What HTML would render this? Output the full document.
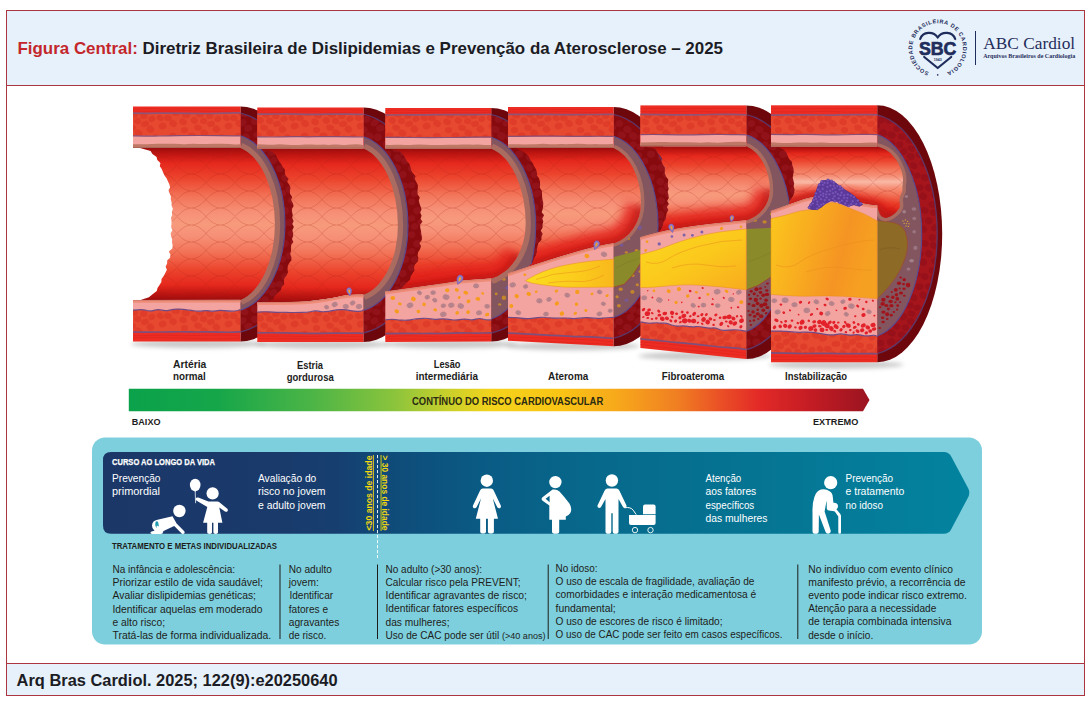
<!DOCTYPE html>
<html lang="pt-BR"><head><meta charset="utf-8"><title>Figura Central</title>
<style>
html,body{margin:0;padding:0;background:#fff;}
body{width:1089px;height:702px;overflow:hidden;position:relative;font-family:'Liberation Sans',Arial,sans-serif;}
svg{position:absolute;left:0;top:0;display:block}
svg text{font-family:'Liberation Sans',Arial,sans-serif;white-space:pre}
svg text.serif{font-family:'Liberation Serif','Times New Roman',serif}
</style></head><body>
<svg width="1089" height="702" viewBox="0 0 1089 702">

<defs>
<linearGradient id="gRisk" x1="0" y1="0" x2="1" y2="0">
<stop offset="0" stop-color="#0aa24b"/><stop offset="0.12" stop-color="#16a64a"/><stop offset="0.25" stop-color="#4db546"/>
<stop offset="0.36" stop-color="#8cc43c"/><stop offset="0.43" stop-color="#c9d02b"/><stop offset="0.49" stop-color="#f3d31c"/>
<stop offset="0.58" stop-color="#fac515"/><stop offset="0.66" stop-color="#f7a81b"/><stop offset="0.74" stop-color="#f07f22"/>
<stop offset="0.80" stop-color="#ea4f26"/><stop offset="0.85" stop-color="#e32a27"/><stop offset="0.92" stop-color="#c41c24"/>
<stop offset="1" stop-color="#9a1420"/></linearGradient>
<linearGradient id="gBand" x1="0" y1="0" x2="1" y2="0">
<stop offset="0" stop-color="#1b3768"/><stop offset="0.2" stop-color="#193a6b"/><stop offset="0.27" stop-color="#163f70"/><stop offset="0.32" stop-color="#104978"/>
<stop offset="0.43" stop-color="#0a5a84"/><stop offset="0.57" stop-color="#07698c"/><stop offset="0.8" stop-color="#057795"/><stop offset="1" stop-color="#03839f"/></linearGradient>
</defs>
<rect x="6.5" y="10.5" width="1078" height="685" fill="#fff" stroke="#ab3640" stroke-width="1"/>
<rect x="7" y="11" width="1077" height="74" fill="#e7f1fb"/>
<rect x="7" y="664" width="1077" height="31" fill="#e7f1fb"/>
<rect x="7" y="85" width="1077" height="1" fill="#ab3640"/>
<rect x="7" y="663" width="1077" height="1" fill="#ab3640"/>
<text x="17.5" y="53.8" font-size="16.5" font-weight="700" textLength="705.5" lengthAdjust="spacingAndGlyphs" fill="#1c1c24"><tspan fill="#c3272b">Figura Central:</tspan> Diretriz Brasileira de Dislipidemias e Prevenção da Aterosclerose – 2025</text>
<text x="16.6" y="686.3" font-size="16.2" font-weight="700" fill="#1c1c24" textLength="321" lengthAdjust="spacingAndGlyphs">Arq Bras Cardiol. 2025; 122(9):e20250640</text>
<g id="logo">
<path id="ringp" d="M 929.0500000000001,72.27 A 25.3,25.3 0 1 1 946.35,72.27" fill="none"/>
<text font-size="5.6" font-weight="700" fill="#1f2d5c" letter-spacing="0.2"><textPath href="#ringp" startOffset="0" textLength="140.5" lengthAdjust="spacing">SOCIEDADE BRASILEIRA DE CARDIOLOGIA</textPath></text>
<circle cx="937.7" cy="74.9" r="0.8" fill="#1f2d5c"/>
<path d="M 937.7,37.5 C 933.7,31.0 922.7,31.0 920.2,39.0 M 937.7,37.5 C 941.7,31.0 952.7,31.0 955.2,39.0" fill="none" stroke="#1f2d5c" stroke-width="2.2" stroke-linecap="round"/>
<path d="M 924.2,57.0 L 937.7,68.0 L 951.2,57.0" fill="none" stroke="#1f2d5c" stroke-width="2.2" stroke-linecap="round" stroke-linejoin="round"/>
<text x="937.7" y="54.6" font-size="18.6" font-weight="700" fill="#1f2d5c" text-anchor="middle" textLength="37.5" lengthAdjust="spacingAndGlyphs" stroke="#1f2d5c" stroke-width="0.7">SBC</text>
<text x="937.7" y="61.1" font-size="3.6" font-weight="700" fill="#1f2d5c" text-anchor="middle">1943</text>
<rect x="975" y="31" width="1" height="34" fill="#1f2d5c"/>
<text class="serif" x="983.2" y="48.6" font-size="17.3" fill="#1f2d5c" textLength="92" lengthAdjust="spacingAndGlyphs">ABC Cardiol</text>
<text class="serif" x="983.2" y="57.6" font-size="6" font-weight="700" fill="#1f2d5c" textLength="92" lengthAdjust="spacingAndGlyphs">Arquivos Brasileiros de Cardiologia</text>
</g>
<defs>
<pattern id="cellF" patternUnits="userSpaceOnUse" width="66" height="33"><rect width="66" height="33" fill="#e74830"/><ellipse cx="41.1" cy="24.5" rx="3.9" ry="3.3" fill="#df3d29" transform="rotate(29 41.1 24.5)"/><ellipse cx="52.5" cy="-1.9" rx="3.6" ry="3.1" fill="#df3d29" transform="rotate(1 52.5 -1.9)"/><ellipse cx="52.5" cy="31.1" rx="3.6" ry="3.1" fill="#df3d29" transform="rotate(1 52.5 31.1)"/><ellipse cx="1.9" cy="15.4" rx="4.1" ry="3.3" fill="#df3d29" transform="rotate(14 1.9 15.4)"/><ellipse cx="67.9" cy="15.4" rx="4.1" ry="3.3" fill="#df3d29" transform="rotate(14 67.9 15.4)"/><ellipse cx="-3.7" cy="21.4" rx="3.6" ry="3.5" fill="#df3d29" transform="rotate(39 -3.7 21.4)"/><ellipse cx="62.3" cy="21.4" rx="3.6" ry="3.5" fill="#df3d29" transform="rotate(39 62.3 21.4)"/><ellipse cx="59.5" cy="3.7" rx="4.1" ry="3.1" fill="#df3d29" transform="rotate(-0 59.5 3.7)"/><ellipse cx="59.5" cy="36.7" rx="4.1" ry="3.1" fill="#df3d29" transform="rotate(-0 59.5 36.7)"/><ellipse cx="31.0" cy="8.1" rx="4.2" ry="3.7" fill="#df3d29" transform="rotate(-22 31.0 8.1)"/><ellipse cx="35.9" cy="18.9" rx="3.9" ry="3.2" fill="#df3d29" transform="rotate(7 35.9 18.9)"/><ellipse cx="0.9" cy="7.2" rx="4.0" ry="3.2" fill="#df3d29" transform="rotate(-38 0.9 7.2)"/><ellipse cx="66.9" cy="7.2" rx="4.0" ry="3.2" fill="#df3d29" transform="rotate(-38 66.9 7.2)"/><ellipse cx="18.4" cy="-2.8" rx="3.8" ry="3.6" fill="#df3d29" transform="rotate(39 18.4 -2.8)"/><ellipse cx="18.4" cy="30.2" rx="3.8" ry="3.6" fill="#df3d29" transform="rotate(39 18.4 30.2)"/><ellipse cx="40.8" cy="4.2" rx="4.0" ry="3.4" fill="#df3d29" transform="rotate(-12 40.8 4.2)"/><ellipse cx="0.1" cy="28.8" rx="4.0" ry="3.1" fill="#df3d29" transform="rotate(15 0.1 28.8)"/><ellipse cx="66.1" cy="28.8" rx="4.0" ry="3.1" fill="#df3d29" transform="rotate(15 66.1 28.8)"/><ellipse cx="13.8" cy="7.1" rx="3.5" ry="3.5" fill="#df3d29" transform="rotate(-31 13.8 7.1)"/><ellipse cx="23.8" cy="5.5" rx="3.8" ry="3.1" fill="#df3d29" transform="rotate(31 23.8 5.5)"/><ellipse cx="19.9" cy="19.9" rx="3.6" ry="3.1" fill="#df3d29" transform="rotate(-32 19.9 19.9)"/><ellipse cx="54.0" cy="15.9" rx="4.2" ry="3.4" fill="#df3d29" transform="rotate(14 54.0 15.9)"/><ellipse cx="13.0" cy="24.9" rx="4.1" ry="3.1" fill="#df3d29" transform="rotate(-18 13.0 24.9)"/><ellipse cx="51.1" cy="22.9" rx="3.9" ry="3.3" fill="#df3d29" transform="rotate(26 51.1 22.9)"/><ellipse cx="30.6" cy="27.0" rx="4.0" ry="3.4" fill="#df3d29" transform="rotate(-18 30.6 27.0)"/><ellipse cx="43.9" cy="13.9" rx="4.3" ry="3.1" fill="#df3d29" transform="rotate(-6 43.9 13.9)"/><ellipse cx="51.6" cy="8.1" rx="3.8" ry="3.3" fill="#df3d29" transform="rotate(-1 51.6 8.1)"/><ellipse cx="28.2" cy="19.0" rx="3.7" ry="3.0" fill="#df3d29" transform="rotate(39 28.2 19.0)"/><ellipse cx="5.6" cy="22.0" rx="3.7" ry="3.2" fill="#df3d29" transform="rotate(12 5.6 22.0)"/><ellipse cx="6.4" cy="1.1" rx="4.1" ry="3.4" fill="#df3d29" transform="rotate(29 6.4 1.1)"/><ellipse cx="6.4" cy="34.1" rx="4.1" ry="3.4" fill="#df3d29" transform="rotate(29 6.4 34.1)"/><ellipse cx="11.8" cy="16.8" rx="3.7" ry="3.3" fill="#df3d29" transform="rotate(-6 11.8 16.8)"/><ellipse cx="60.6" cy="11.8" rx="3.9" ry="3.1" fill="#df3d29" transform="rotate(-27 60.6 11.8)"/></pattern>
<pattern id="cellD" patternUnits="userSpaceOnUse" width="66" height="33"><rect width="66" height="33" fill="#860a0e"/><ellipse cx="30.6" cy="12.3" rx="4.1" ry="3.7" fill="#92121a" transform="rotate(14 30.6 12.3)"/><ellipse cx="9.1" cy="28.6" rx="4.2" ry="3.4" fill="#92121a" transform="rotate(-32 9.1 28.6)"/><ellipse cx="0.4" cy="16.6" rx="3.8" ry="3.7" fill="#92121a" transform="rotate(17 0.4 16.6)"/><ellipse cx="66.4" cy="16.6" rx="3.8" ry="3.7" fill="#92121a" transform="rotate(17 66.4 16.6)"/><ellipse cx="59.3" cy="2.7" rx="4.0" ry="3.0" fill="#92121a" transform="rotate(-15 59.3 2.7)"/><ellipse cx="59.3" cy="35.7" rx="4.0" ry="3.0" fill="#92121a" transform="rotate(-15 59.3 35.7)"/><ellipse cx="36.6" cy="20.3" rx="3.9" ry="3.4" fill="#92121a" transform="rotate(-17 36.6 20.3)"/><ellipse cx="46.4" cy="14.9" rx="4.1" ry="3.3" fill="#92121a" transform="rotate(15 46.4 14.9)"/><ellipse cx="47.9" cy="5.2" rx="3.9" ry="3.7" fill="#92121a" transform="rotate(-40 47.9 5.2)"/><ellipse cx="15.7" cy="3.7" rx="3.6" ry="3.3" fill="#92121a" transform="rotate(-12 15.7 3.7)"/><ellipse cx="15.7" cy="36.7" rx="3.6" ry="3.3" fill="#92121a" transform="rotate(-12 15.7 36.7)"/><ellipse cx="33.4" cy="-2.5" rx="4.2" ry="3.5" fill="#92121a" transform="rotate(16 33.4 -2.5)"/><ellipse cx="33.4" cy="30.5" rx="4.2" ry="3.5" fill="#92121a" transform="rotate(16 33.4 30.5)"/><ellipse cx="25.3" cy="24.6" rx="3.8" ry="3.4" fill="#92121a" transform="rotate(-15 25.3 24.6)"/><ellipse cx="6.7" cy="9.6" rx="3.9" ry="3.5" fill="#92121a" transform="rotate(-25 6.7 9.6)"/><ellipse cx="44.5" cy="23.9" rx="4.1" ry="3.1" fill="#92121a" transform="rotate(-35 44.5 23.9)"/><ellipse cx="27.8" cy="2.9" rx="4.2" ry="3.2" fill="#92121a" transform="rotate(27 27.8 2.9)"/><ellipse cx="27.8" cy="35.9" rx="4.2" ry="3.2" fill="#92121a" transform="rotate(27 27.8 35.9)"/><ellipse cx="39.4" cy="4.0" rx="4.3" ry="3.6" fill="#92121a" transform="rotate(23 39.4 4.0)"/><ellipse cx="1.2" cy="2.8" rx="3.7" ry="3.4" fill="#92121a" transform="rotate(29 1.2 2.8)"/><ellipse cx="1.2" cy="35.8" rx="3.7" ry="3.4" fill="#92121a" transform="rotate(29 1.2 35.8)"/><ellipse cx="67.2" cy="2.8" rx="3.7" ry="3.4" fill="#92121a" transform="rotate(29 67.2 2.8)"/><ellipse cx="67.2" cy="35.8" rx="3.7" ry="3.4" fill="#92121a" transform="rotate(29 67.2 35.8)"/><ellipse cx="15.6" cy="20.2" rx="3.6" ry="3.1" fill="#92121a" transform="rotate(-8 15.6 20.2)"/><ellipse cx="1.7" cy="25.8" rx="4.0" ry="3.3" fill="#92121a" transform="rotate(37 1.7 25.8)"/><ellipse cx="67.7" cy="25.8" rx="4.0" ry="3.3" fill="#92121a" transform="rotate(37 67.7 25.8)"/><ellipse cx="56.8" cy="12.2" rx="4.1" ry="3.7" fill="#92121a" transform="rotate(-2 56.8 12.2)"/><ellipse cx="50.3" cy="-3.8" rx="4.1" ry="3.3" fill="#92121a" transform="rotate(-17 50.3 -3.8)"/><ellipse cx="50.3" cy="29.2" rx="4.1" ry="3.3" fill="#92121a" transform="rotate(-17 50.3 29.2)"/><ellipse cx="21.1" cy="12.7" rx="3.9" ry="3.6" fill="#92121a" transform="rotate(-25 21.1 12.7)"/><ellipse cx="57.1" cy="22.3" rx="4.0" ry="3.6" fill="#92121a" transform="rotate(1 57.1 22.3)"/><ellipse cx="18.5" cy="28.5" rx="3.7" ry="3.2" fill="#92121a" transform="rotate(-20 18.5 28.5)"/><ellipse cx="7.8" cy="20.8" rx="4.2" ry="3.3" fill="#92121a" transform="rotate(-11 7.8 20.8)"/><ellipse cx="38.8" cy="13.0" rx="3.9" ry="3.1" fill="#92121a" transform="rotate(-39 38.8 13.0)"/></pattern>
<pattern id="cellD6" patternUnits="userSpaceOnUse" width="66" height="33"><rect width="66" height="33" fill="#a5151b"/><ellipse cx="31.3" cy="21.7" rx="3.7" ry="3.3" fill="#97101a" transform="rotate(-6 31.3 21.7)"/><ellipse cx="44.0" cy="4.7" rx="4.2" ry="3.4" fill="#97101a" transform="rotate(13 44.0 4.7)"/><ellipse cx="0.7" cy="12.4" rx="4.1" ry="3.3" fill="#97101a" transform="rotate(18 0.7 12.4)"/><ellipse cx="66.7" cy="12.4" rx="4.1" ry="3.3" fill="#97101a" transform="rotate(18 66.7 12.4)"/><ellipse cx="18.1" cy="26.7" rx="3.7" ry="3.3" fill="#97101a" transform="rotate(15 18.1 26.7)"/><ellipse cx="45.6" cy="19.8" rx="3.8" ry="3.4" fill="#97101a" transform="rotate(-29 45.6 19.8)"/><ellipse cx="9.6" cy="14.5" rx="3.9" ry="3.2" fill="#97101a" transform="rotate(26 9.6 14.5)"/><ellipse cx="10.7" cy="-3.1" rx="3.6" ry="3.3" fill="#97101a" transform="rotate(-30 10.7 -3.1)"/><ellipse cx="10.7" cy="29.9" rx="3.6" ry="3.3" fill="#97101a" transform="rotate(-30 10.7 29.9)"/><ellipse cx="4.9" cy="22.7" rx="3.9" ry="3.6" fill="#97101a" transform="rotate(25 4.9 22.7)"/><ellipse cx="22.2" cy="13.4" rx="4.1" ry="3.6" fill="#97101a" transform="rotate(-5 22.2 13.4)"/><ellipse cx="55.6" cy="0.6" rx="3.9" ry="3.2" fill="#97101a" transform="rotate(28 55.6 0.6)"/><ellipse cx="55.6" cy="33.6" rx="3.9" ry="3.2" fill="#97101a" transform="rotate(28 55.6 33.6)"/><ellipse cx="33.6" cy="3.0" rx="4.2" ry="3.6" fill="#97101a" transform="rotate(22 33.6 3.0)"/><ellipse cx="33.6" cy="36.0" rx="4.2" ry="3.6" fill="#97101a" transform="rotate(22 33.6 36.0)"/><ellipse cx="-0.8" cy="-1.8" rx="3.9" ry="3.6" fill="#97101a" transform="rotate(32 -0.8 -1.8)"/><ellipse cx="-0.8" cy="31.2" rx="3.9" ry="3.6" fill="#97101a" transform="rotate(32 -0.8 31.2)"/><ellipse cx="65.2" cy="-1.8" rx="3.9" ry="3.6" fill="#97101a" transform="rotate(32 65.2 -1.8)"/><ellipse cx="65.2" cy="31.2" rx="3.9" ry="3.6" fill="#97101a" transform="rotate(32 65.2 31.2)"/><ellipse cx="25.4" cy="1.0" rx="4.0" ry="3.5" fill="#97101a" transform="rotate(34 25.4 1.0)"/><ellipse cx="25.4" cy="34.0" rx="4.0" ry="3.5" fill="#97101a" transform="rotate(34 25.4 34.0)"/><ellipse cx="53.5" cy="16.5" rx="3.9" ry="3.1" fill="#97101a" transform="rotate(23 53.5 16.5)"/><ellipse cx="38.8" cy="-3.3" rx="3.6" ry="3.1" fill="#97101a" transform="rotate(1 38.8 -3.3)"/><ellipse cx="38.8" cy="29.7" rx="3.6" ry="3.1" fill="#97101a" transform="rotate(1 38.8 29.7)"/><ellipse cx="61.6" cy="22.7" rx="4.0" ry="3.4" fill="#97101a" transform="rotate(-0 61.6 22.7)"/><ellipse cx="33.0" cy="11.9" rx="4.3" ry="3.6" fill="#97101a" transform="rotate(-22 33.0 11.9)"/><ellipse cx="59.2" cy="10.6" rx="3.5" ry="3.0" fill="#97101a" transform="rotate(-21 59.2 10.6)"/><ellipse cx="41.8" cy="12.8" rx="3.5" ry="3.5" fill="#97101a" transform="rotate(10 41.8 12.8)"/><ellipse cx="16.0" cy="2.9" rx="3.7" ry="3.2" fill="#97101a" transform="rotate(-11 16.0 2.9)"/><ellipse cx="16.0" cy="35.9" rx="3.7" ry="3.2" fill="#97101a" transform="rotate(-11 16.0 35.9)"/><ellipse cx="52.8" cy="24.6" rx="4.1" ry="3.6" fill="#97101a" transform="rotate(30 52.8 24.6)"/><ellipse cx="8.3" cy="6.6" rx="3.6" ry="3.4" fill="#97101a" transform="rotate(27 8.3 6.6)"/><ellipse cx="51.7" cy="8.4" rx="4.0" ry="3.2" fill="#97101a" transform="rotate(5 51.7 8.4)"/><ellipse cx="47.4" cy="-2.4" rx="3.6" ry="3.4" fill="#97101a" transform="rotate(5 47.4 -2.4)"/><ellipse cx="47.4" cy="30.6" rx="3.6" ry="3.4" fill="#97101a" transform="rotate(5 47.4 30.6)"/><ellipse cx="23.5" cy="21.0" rx="4.3" ry="3.2" fill="#97101a" transform="rotate(-32 23.5 21.0)"/></pattern>
<pattern id="net" patternUnits="userSpaceOnUse" width="58" height="17" patternTransform="translate(3,4)"><path d="M0,8.5 Q14.5,-8.5 29,8.5 T58,8.5 M0,8.5 Q14.5,25.5 29,8.5 T58,8.5" fill="none" stroke="#a81a10" stroke-opacity="0.40" stroke-width="0.55"/></pattern>
<filter id="blur2" x="-20%" y="-50%" width="140%" height="200%"><feGaussianBlur stdDeviation="2.2"/></filter>
<filter id="blur3" x="-30%" y="-30%" width="160%" height="160%"><feGaussianBlur stdDeviation="3.2"/></filter>
<filter id="blur5" x="-30%" y="-60%" width="160%" height="220%"><feGaussianBlur stdDeviation="5"/></filter>
<filter id="blur1" x="-10%" y="-10%" width="120%" height="120%"><feGaussianBlur stdDeviation="0.9"/></filter>
<linearGradient id="lip4" x1="0" y1="0" x2="1" y2="0"><stop offset="0" stop-color="#fbdc1f"/><stop offset="0.6" stop-color="#fbcb1c"/><stop offset="1" stop-color="#f9b81c"/></linearGradient>
<linearGradient id="lip5" x1="0" y1="0" x2="1" y2="1"><stop offset="0" stop-color="#fbd91f"/><stop offset="0.55" stop-color="#fbc71c"/><stop offset="1" stop-color="#f8ab1e"/></linearGradient>
<linearGradient id="lip6" x1="0" y1="0" x2="1" y2="0.25"><stop offset="0" stop-color="#fbc81d"/><stop offset="0.35" stop-color="#f9b01f"/><stop offset="0.75" stop-color="#f59423"/><stop offset="1" stop-color="#f6a021"/></linearGradient>
</defs>
<g id="artery">
<ellipse cx="198.7" cy="343.9" rx="67.7" ry="4.2" fill="#8a8a8a" opacity="0.45" filter="url(#blur2)"/>
<ellipse cx="322.4" cy="344.5" rx="67.0" ry="4.2" fill="#8a8a8a" opacity="0.45" filter="url(#blur2)"/>
<ellipse cx="450.2" cy="344.2" rx="66.9" ry="4.2" fill="#8a8a8a" opacity="0.45" filter="url(#blur2)"/>
<ellipse cx="572.8" cy="346.1" rx="66.8" ry="4.2" fill="#8a8a8a" opacity="0.45" filter="url(#blur2)"/>
<ellipse cx="705.3" cy="356.0" rx="66.9" ry="4.2" fill="#8a8a8a" opacity="0.45" filter="url(#blur2)"/>
<ellipse cx="836.1" cy="364.7" rx="67.1" ry="4.2" fill="#8a8a8a" opacity="0.45" filter="url(#blur2)"/>
<defs>
<linearGradient id="lg0" gradientUnits="userSpaceOnUse" x1="0" y1="147.9" x2="0" y2="300.2"><stop offset="0" stop-color="#9c0d0e"/><stop offset="0.04" stop-color="#bf1511"/><stop offset="0.10" stop-color="#e5281d"/><stop offset="0.20" stop-color="#ec442d"/><stop offset="0.32" stop-color="#f27458"/><stop offset="0.42" stop-color="#f69077"/><stop offset="0.5" stop-color="#f79a7c"/><stop offset="0.58" stop-color="#f69077"/><stop offset="0.68" stop-color="#f27458"/><stop offset="0.80" stop-color="#ec442d"/><stop offset="0.90" stop-color="#e5281d"/><stop offset="0.96" stop-color="#bb1411"/><stop offset="1" stop-color="#9c0d0e"/></linearGradient>
<linearGradient id="lg1" gradientUnits="userSpaceOnUse" x1="0" y1="148.6" x2="0" y2="302.4"><stop offset="0" stop-color="#9c0d0e"/><stop offset="0.04" stop-color="#bf1511"/><stop offset="0.10" stop-color="#e5281d"/><stop offset="0.20" stop-color="#ec442d"/><stop offset="0.32" stop-color="#f27458"/><stop offset="0.42" stop-color="#f69077"/><stop offset="0.5" stop-color="#f79a7c"/><stop offset="0.58" stop-color="#f69077"/><stop offset="0.68" stop-color="#f27458"/><stop offset="0.80" stop-color="#ec442d"/><stop offset="0.90" stop-color="#e5281d"/><stop offset="0.96" stop-color="#bb1411"/><stop offset="1" stop-color="#9c0d0e"/></linearGradient>
<linearGradient id="lg2" gradientUnits="userSpaceOnUse" x1="0" y1="148.7" x2="0" y2="291.8"><stop offset="0" stop-color="#9c0d0e"/><stop offset="0.04" stop-color="#bf1511"/><stop offset="0.10" stop-color="#e5281d"/><stop offset="0.20" stop-color="#ec442d"/><stop offset="0.32" stop-color="#f27458"/><stop offset="0.42" stop-color="#f69077"/><stop offset="0.5" stop-color="#f79a7c"/><stop offset="0.58" stop-color="#f69077"/><stop offset="0.68" stop-color="#f27458"/><stop offset="0.80" stop-color="#ec442d"/><stop offset="0.90" stop-color="#e5281d"/><stop offset="0.96" stop-color="#bb1411"/><stop offset="1" stop-color="#9c0d0e"/></linearGradient>
<linearGradient id="lg3" gradientUnits="userSpaceOnUse" x1="0" y1="147.9" x2="0" y2="279.6"><stop offset="0" stop-color="#9c0d0e"/><stop offset="0.04" stop-color="#bf1511"/><stop offset="0.10" stop-color="#e5281d"/><stop offset="0.20" stop-color="#ec442d"/><stop offset="0.32" stop-color="#f27458"/><stop offset="0.42" stop-color="#f69077"/><stop offset="0.5" stop-color="#f79a7c"/><stop offset="0.58" stop-color="#f69077"/><stop offset="0.68" stop-color="#f27458"/><stop offset="0.80" stop-color="#ec442d"/><stop offset="0.90" stop-color="#e5281d"/><stop offset="0.96" stop-color="#bb1411"/><stop offset="1" stop-color="#9c0d0e"/></linearGradient>
<linearGradient id="lg4" gradientUnits="userSpaceOnUse" x1="0" y1="146.2" x2="0" y2="243.4"><stop offset="0" stop-color="#9c0d0e"/><stop offset="0.04" stop-color="#bf1511"/><stop offset="0.10" stop-color="#e5281d"/><stop offset="0.20" stop-color="#ec442d"/><stop offset="0.32" stop-color="#f27458"/><stop offset="0.42" stop-color="#f69077"/><stop offset="0.5" stop-color="#f79a7c"/><stop offset="0.58" stop-color="#f69077"/><stop offset="0.68" stop-color="#f27458"/><stop offset="0.80" stop-color="#ec442d"/><stop offset="0.90" stop-color="#e5281d"/><stop offset="0.96" stop-color="#bb1411"/><stop offset="1" stop-color="#9c0d0e"/></linearGradient>
<linearGradient id="lg5" gradientUnits="userSpaceOnUse" x1="0" y1="146.6" x2="0" y2="217.2"><stop offset="0" stop-color="#9c0d0e"/><stop offset="0.04" stop-color="#bf1511"/><stop offset="0.10" stop-color="#e5281d"/><stop offset="0.20" stop-color="#ec442d"/><stop offset="0.32" stop-color="#f27458"/><stop offset="0.42" stop-color="#f69077"/><stop offset="0.5" stop-color="#f9b9a6"/><stop offset="0.58" stop-color="#f69077"/><stop offset="0.68" stop-color="#f27458"/><stop offset="0.80" stop-color="#ec442d"/><stop offset="0.90" stop-color="#e5281d"/><stop offset="0.96" stop-color="#bb1411"/><stop offset="1" stop-color="#9c0d0e"/></linearGradient>
</defs>
<g id="seg1">
<path d="M240.4,106.5 A67.00,117.45 0 0 1 307.40,223.95 A67.00,117.45 0 0 1 240.40,341.40 Z" fill="#6d070b"/>
<path d="M240.4,113.2 A72.00,111.83 0 0 1 302.40,223.95 A72.00,109.11 0 0 1 240.40,332.00 Z" fill="url(#cellD)"/>
<path d="M240.4,113.2 A72.00,111.83 0 0 1 302.40,223.95 A72.00,109.11 0 0 1 240.40,332.00" fill="none" stroke="#5b3a70" stroke-width="1.3" opacity="0.9"/>
<path d="M240.4,135.8 A54.50,89.67 0 0 1 284.90,223.95 A54.50,87.74 0 0 1 240.40,310.20 Z" fill="#83565f"/>
<clipPath id="e2c0"><path d="M240.4,135.8 A54.50,89.67 0 0 1 284.90,223.95 A54.50,87.74 0 0 1 240.40,310.20 Z"/></clipPath>
<path d="M240.4,135.8 A54.50,89.67 0 0 1 284.90,223.95 A54.50,87.74 0 0 1 240.40,310.20" fill="none" stroke="#5a4a92" stroke-width="1.1"/>
<path d="M240.4,147.9 A44.50,78.05 0 0 1 274.90,223.95 A44.50,78.05 0 0 1 240.40,300.00" fill="none" stroke="#aa6b60" stroke-width="10.5" stroke-linejoin="round"/>
<path d="M140.0,147.9 H240.4 A44.50,78.05 0 0 1 274.90,223.95 A44.50,78.05 0 0 1 240.40,300.00 L240.4,300.0 L133.0,300.2 L140.0,300.2 L148.9,297.2 L152.9,294.1 L156.8,291.1 L157.5,288.0 L159.5,285.0 L161.4,281.9 L161.5,278.9 L163.9,275.8 L165.4,272.8 L166.9,269.7 L165.6,266.7 L167.1,263.6 L167.2,260.6 L170.2,257.6 L170.4,254.5 L168.8,251.5 L172.3,248.4 L172.7,245.4 L172.0,242.3 L172.2,239.3 L171.0,236.2 L170.7,233.2 L172.5,230.1 L171.1,227.1 L171.5,224.1 L171.6,221.0 L170.9,218.0 L172.2,214.9 L171.9,211.9 L172.9,208.8 L171.6,205.8 L171.7,202.7 L170.8,199.7 L170.9,196.6 L169.7,193.6 L168.5,190.5 L170.1,187.5 L169.4,184.5 L168.0,181.4 L166.7,178.4 L164.4,175.3 L163.0,172.3 L161.9,169.2 L159.8,166.2 L160.4,163.1 L157.3,160.1 L156.6,157.0 L152.4,154.0 L150.6,150.9 L140.0,147.9 Z" fill="url(#lg0)"/>
<path d="M140.0,147.9 H240.4 A44.50,78.05 0 0 1 274.90,223.95 A44.50,78.05 0 0 1 240.40,300.00 L240.4,300.0 L133.0,300.2 L140.0,300.2 L148.9,297.2 L152.9,294.1 L156.8,291.1 L157.5,288.0 L159.5,285.0 L161.4,281.9 L161.5,278.9 L163.9,275.8 L165.4,272.8 L166.9,269.7 L165.6,266.7 L167.1,263.6 L167.2,260.6 L170.2,257.6 L170.4,254.5 L168.8,251.5 L172.3,248.4 L172.7,245.4 L172.0,242.3 L172.2,239.3 L171.0,236.2 L170.7,233.2 L172.5,230.1 L171.1,227.1 L171.5,224.1 L171.6,221.0 L170.9,218.0 L172.2,214.9 L171.9,211.9 L172.9,208.8 L171.6,205.8 L171.7,202.7 L170.8,199.7 L170.9,196.6 L169.7,193.6 L168.5,190.5 L170.1,187.5 L169.4,184.5 L168.0,181.4 L166.7,178.4 L164.4,175.3 L163.0,172.3 L161.9,169.2 L159.8,166.2 L160.4,163.1 L157.3,160.1 L156.6,157.0 L152.4,154.0 L150.6,150.9 L140.0,147.9 Z" fill="url(#net)"/>
<rect x="133.0" y="106.5" width="107.4" height="41.4" fill="#ed2d23"/>
<path d="M133.0,109.3 Q148.8,108.2 155.0,108.6 Q161.1,109.1 168.6,109.0 Q176.1,108.9 182.7,108.9 Q189.3,108.8 196.5,108.8 Q203.7,108.8 210.1,108.7 Q216.4,108.6 223.2,108.8 Q229.9,109.0 235.2,109.1 L240.4,109.3 M133.0,111.1 Q151.0,111.3 160.4,111.2 Q169.7,111.2 179.1,110.8 Q188.4,110.4 196.9,110.9 Q205.3,111.5 214.1,111.4 Q222.9,111.4 230.6,111.1 Q238.3,110.9 239.4,110.9 L240.4,111.0" stroke="#d82019" stroke-width="0.6" fill="none" opacity="0.8"/>
<rect x="133.0" y="113.2" width="107.4" height="22.8" fill="url(#cellF)"/>
<path d="M133.0,113.2 Q148.9,113.4 157.5,113.2 Q166.2,113.1 174.3,113.2 Q182.3,113.3 190.8,113.4 Q199.2,113.5 207.7,113.5 Q216.2,113.5 224.5,113.2 Q232.8,113.0 236.6,112.9 L240.4,112.9" stroke="#86567e" stroke-width="1.7" fill="none" opacity="0.9"/>
<rect x="133.0" y="135.8" width="107.4" height="12.1" fill="#f3a4a0"/>
<path d="M133.0,135.8 Q149.8,136.1 159.6,136.0 Q169.4,135.9 179.1,135.7 Q188.8,135.5 198.3,135.5 Q207.8,135.6 216.6,135.7 Q225.4,135.8 232.9,135.8 L240.4,135.8" stroke="#7d4a78" stroke-width="1.2" fill="none" opacity="0.9"/>
<path d="M133.0,144.2 Q140.5,144.1 144.0,144.2 Q147.5,144.4 150.2,144.1 Q152.9,143.8 156.6,143.7 Q160.3,143.6 164.1,143.7 Q167.9,143.8 172.0,143.8 Q176.2,143.7 180.4,144.1 Q184.6,144.5 187.6,144.1 Q190.7,143.7 193.2,143.7 Q195.8,143.8 198.8,143.9 Q201.8,144.0 206.3,143.9 Q210.7,143.8 214.7,143.8 Q218.6,143.8 221.8,143.8 Q225.0,143.7 229.2,144.1 Q233.4,144.5 236.3,144.4 Q239.3,144.2 239.8,144.2 L240.4,144.2 L240.4,147.9 L133.0,147.9 Z" fill="#c07866"/>
<rect x="133.0" y="147.0" width="107.4" height="0.9" fill="#9a5a4e" opacity="0.7"/>
<path d="M133.0,331 L240.4,331 V341.4 L133.0,341.4 Z" fill="#ed2d23"/>
<path d="M133.0,335.8 Q148.7,335.6 157.1,335.3 Q165.4,334.9 173.1,335.4 Q180.9,335.9 189.2,335.6 Q197.4,335.4 204.2,335.3 Q211.1,335.2 219.6,335.0 Q228.0,334.8 234.2,335.4 L240.4,336.0 M133.0,338.1 Q150.2,337.4 159.5,337.6 Q168.8,337.7 177.3,337.9 Q185.8,338.1 195.1,338.5 Q204.4,339.0 213.3,339.0 Q222.2,339.0 231.3,338.5 L240.4,338.0" stroke="#d82019" stroke-width="0.6" fill="none" opacity="0.8"/>
<path d="M133.0,310.1 Q142.5,309.0 146.1,310.2 Q149.6,311.4 154.0,310.3 Q158.3,309.2 162.0,310.2 Q165.7,311.2 169.6,310.1 Q173.5,309.0 178.2,309.1 Q183.0,309.2 187.3,309.9 Q191.6,310.5 195.5,311.0 Q199.4,311.4 202.8,310.9 Q206.2,310.5 209.4,310.9 Q212.6,311.4 215.9,310.8 Q219.2,310.2 223.9,310.7 Q228.5,311.2 231.7,311.2 Q234.9,311.2 237.7,310.5 L240.4,309.7 L240.4,332 L133.0,332 Z" fill="url(#cellF)"/>
<path d="M133.0,332.0 Q148.1,332.1 155.5,332.0 Q163.0,332.0 172.0,331.8 Q180.9,331.7 188.6,331.9 Q196.2,332.1 203.4,331.9 Q210.5,331.7 219.2,332.1 Q227.8,332.4 234.1,332.1 L240.4,331.8" stroke="#7d4f7c" stroke-width="1.7" fill="none"/>
<path d="M133.0,300.2 L240.4,300.0 L240.4,309.7 Q234.9,311.2 231.7,311.2 Q228.5,311.2 223.9,310.7 Q219.2,310.2 215.9,310.8 Q212.6,311.4 209.4,310.9 Q206.2,310.5 202.8,310.9 Q199.4,311.4 195.5,311.0 Q191.6,310.5 187.3,309.9 Q183.0,309.2 178.2,309.1 Q173.5,309.0 169.6,310.1 Q165.7,311.2 162.0,310.2 Q158.3,309.2 154.0,310.3 Q149.6,311.4 146.1,310.2 Q142.5,309.0 137.8,309.5 L133.0,310.1 Z" fill="#f3a4a0"/>
<path d="M133.0,310.1 Q142.5,309.0 146.1,310.2 Q149.6,311.4 154.0,310.3 Q158.3,309.2 162.0,310.2 Q165.7,311.2 169.6,310.1 Q173.5,309.0 178.2,309.1 Q183.0,309.2 187.3,309.9 Q191.6,310.5 195.5,311.0 Q199.4,311.4 202.8,310.9 Q206.2,310.5 209.4,310.9 Q212.6,311.4 215.9,310.8 Q219.2,310.2 223.9,310.7 Q228.5,311.2 231.7,311.2 Q234.9,311.2 237.7,310.5 L240.4,309.7" stroke="#6f4a86" stroke-width="1.2" fill="none"/>
<path d="M133.0,301.4 L240.4,301.2" stroke="#ee8c78" stroke-width="2.8" fill="none"/>
<path d="M133.0,300.5 L240.4,300.3" stroke="#c9796b" stroke-width="0.7" fill="none"/>
</g>
<g id="seg2">
<path d="M363.4,107.5 A67.00,117.90 0 0 1 430.40,225.40 A67.00,116.60 0 0 1 363.40,342.00 Z" fill="#6d070b"/>
<path d="M363.4,114.2 A72.00,112.29 0 0 1 425.40,225.40 A72.00,108.65 0 0 1 363.40,333.00 Z" fill="url(#cellD)"/>
<path d="M363.4,114.2 A72.00,112.29 0 0 1 425.40,225.40 A72.00,108.65 0 0 1 363.40,333.00" fill="none" stroke="#5b3a70" stroke-width="1.3" opacity="0.9"/>
<path d="M363.4,136.8 A54.50,90.13 0 0 1 407.90,225.40 A54.50,86.57 0 0 1 363.40,310.50 Z" fill="#83565f"/>
<clipPath id="e2c1"><path d="M363.4,136.8 A54.50,90.13 0 0 1 407.90,225.40 A54.50,86.57 0 0 1 363.40,310.50 Z"/></clipPath>
<path d="M363.4,136.8 A54.50,90.13 0 0 1 407.90,225.40 A54.50,86.57 0 0 1 363.40,310.50" fill="none" stroke="#5a4a92" stroke-width="1.1"/>
<path d="M363.4,148.6 A44.50,78.82 0 0 1 397.90,225.40 A44.50,71.22 0 0 1 363.40,294.80" fill="none" stroke="#aa6b60" stroke-width="10.5" stroke-linejoin="round"/>
<path d="M264.3,148.6 H363.4 A44.50,78.82 0 0 1 397.90,225.40 A44.50,71.22 0 0 1 363.40,294.80 L363.4,294.8 Q352.0,294.6 347.5,295.3 Q343.0,296.0 336.5,297.3 Q330.0,298.6 322.5,299.6 Q315.0,300.6 307.5,301.4 Q300.0,302.2 278.6,302.3 L257.3,302.4 L264.3,302.4 L273.2,299.4 L274.3,296.4 L277.2,293.4 L281.0,290.3 L281.5,287.3 L284.2,284.3 L284.0,281.3 L284.3,278.3 L286.7,275.3 L288.0,272.2 L287.5,269.2 L287.8,266.2 L289.1,263.2 L291.4,260.2 L291.4,257.2 L290.2,254.1 L291.0,251.1 L291.0,248.1 L291.2,245.1 L293.4,242.1 L292.0,239.1 L293.2,236.1 L293.0,233.0 L292.4,230.0 L293.9,227.0 L292.3,224.0 L293.6,221.0 L292.2,218.0 L292.8,214.9 L292.1,211.9 L292.0,208.9 L293.6,205.9 L292.8,202.9 L291.1,199.9 L292.2,196.9 L290.0,193.8 L289.9,190.8 L290.5,187.8 L289.3,184.8 L287.1,181.8 L288.6,178.8 L285.7,175.7 L284.8,172.7 L285.0,169.7 L282.6,166.7 L281.0,163.7 L278.8,160.7 L276.9,157.6 L275.8,154.6 L271.7,151.6 L264.3,148.6 Z" fill="url(#lg1)"/>
<path d="M264.3,148.6 H363.4 A44.50,78.82 0 0 1 397.90,225.40 A44.50,71.22 0 0 1 363.40,294.80 L363.4,294.8 Q352.0,294.6 347.5,295.3 Q343.0,296.0 336.5,297.3 Q330.0,298.6 322.5,299.6 Q315.0,300.6 307.5,301.4 Q300.0,302.2 278.6,302.3 L257.3,302.4 L264.3,302.4 L273.2,299.4 L274.3,296.4 L277.2,293.4 L281.0,290.3 L281.5,287.3 L284.2,284.3 L284.0,281.3 L284.3,278.3 L286.7,275.3 L288.0,272.2 L287.5,269.2 L287.8,266.2 L289.1,263.2 L291.4,260.2 L291.4,257.2 L290.2,254.1 L291.0,251.1 L291.0,248.1 L291.2,245.1 L293.4,242.1 L292.0,239.1 L293.2,236.1 L293.0,233.0 L292.4,230.0 L293.9,227.0 L292.3,224.0 L293.6,221.0 L292.2,218.0 L292.8,214.9 L292.1,211.9 L292.0,208.9 L293.6,205.9 L292.8,202.9 L291.1,199.9 L292.2,196.9 L290.0,193.8 L289.9,190.8 L290.5,187.8 L289.3,184.8 L287.1,181.8 L288.6,178.8 L285.7,175.7 L284.8,172.7 L285.0,169.7 L282.6,166.7 L281.0,163.7 L278.8,160.7 L276.9,157.6 L275.8,154.6 L271.7,151.6 L264.3,148.6 Z" fill="url(#net)"/>
<rect x="257.3" y="107.5" width="106.1" height="41.1" fill="#ed2d23"/>
<path d="M257.3,110.3 Q273.1,109.2 279.3,109.6 Q285.4,110.1 292.9,110.0 Q300.4,109.9 307.0,109.9 Q313.6,109.8 320.8,109.8 Q328.0,109.8 334.4,109.7 Q340.7,109.6 347.5,109.8 Q354.2,110.0 358.8,110.1 L363.4,110.3 M257.3,112.1 Q275.3,112.3 284.7,112.2 Q294.0,112.2 303.4,111.8 Q312.7,111.4 321.2,111.9 Q329.6,112.5 338.4,112.4 Q347.2,112.4 354.9,112.1 Q362.6,111.9 363.0,111.9 L363.4,112.0" stroke="#d82019" stroke-width="0.6" fill="none" opacity="0.8"/>
<rect x="257.3" y="114.2" width="106.1" height="22.8" fill="url(#cellF)"/>
<path d="M257.3,114.1 Q271.7,114.2 279.8,114.0 Q287.8,113.9 296.5,114.1 Q305.1,114.4 313.1,114.4 Q321.0,114.3 329.7,114.1 Q338.4,114.0 346.9,114.1 Q355.3,114.2 359.4,114.3 L363.4,114.4" stroke="#86567e" stroke-width="1.7" fill="none" opacity="0.9"/>
<rect x="257.3" y="136.8" width="106.1" height="11.8" fill="#f3a4a0"/>
<path d="M257.3,136.9 Q273.6,137.1 282.5,136.8 Q291.3,136.6 299.8,136.7 Q308.2,136.9 317.0,136.7 Q325.8,136.6 334.3,136.6 Q342.9,136.6 352.9,136.8 Q362.8,137.1 363.1,137.0 L363.4,136.9" stroke="#7d4a78" stroke-width="1.2" fill="none" opacity="0.9"/>
<path d="M257.3,144.2 Q264.5,144.6 268.8,144.7 Q273.2,144.9 276.1,144.6 Q279.1,144.2 283.2,144.5 Q287.2,144.7 291.3,144.9 Q295.3,145.1 298.9,145.1 Q302.6,145.0 305.4,144.6 Q308.1,144.3 312.5,144.6 Q316.8,144.9 320.3,144.7 Q323.8,144.5 326.7,144.8 Q329.6,145.1 333.4,144.6 Q337.3,144.2 340.3,144.7 Q343.2,145.2 347.4,144.8 Q351.7,144.3 355.8,144.3 Q359.9,144.4 361.6,144.8 L363.4,145.2 L363.4,148.6 L257.3,148.6 Z" fill="#c07866"/>
<rect x="257.3" y="147.7" width="106.1" height="0.9" fill="#9a5a4e" opacity="0.7"/>
<path d="M257.3,332 L363.4,332 V342.0 L257.3,342.0 Z" fill="#ed2d23"/>
<path d="M257.3,335.7 Q273.1,336.4 280.5,336.1 Q288.0,335.9 296.1,336.3 Q304.1,336.7 311.7,336.5 Q319.2,336.3 326.2,336.0 Q333.1,335.6 340.4,336.1 Q347.6,336.5 354.3,336.6 Q360.9,336.8 362.2,336.4 L363.4,336.0 M257.3,338.3 Q273.7,338.9 283.1,338.8 Q292.5,338.6 300.7,338.7 Q308.9,338.8 318.5,338.8 Q328.0,338.8 337.4,339.2 Q346.9,339.6 355.2,339.5 L363.4,339.4" stroke="#d82019" stroke-width="0.6" fill="none" opacity="0.8"/>
<path d="M257.3,312.2 Q264.2,311.5 269.1,311.9 Q273.9,312.4 278.3,312.3 Q282.6,312.2 286.4,312.3 Q290.2,312.5 294.3,312.5 Q298.5,312.5 302.8,312.4 Q307.1,312.4 311.0,311.5 Q314.9,310.5 318.2,311.2 Q321.5,311.9 324.8,311.7 Q328.2,311.6 332.4,310.7 Q336.6,309.9 341.2,309.7 Q345.8,309.6 350.5,310.6 Q355.2,311.5 358.7,311.3 Q362.1,311.1 362.8,310.3 L363.4,309.5 L363.4,333 L257.3,333 Z" fill="url(#cellF)"/>
<path d="M257.3,332.8 Q273.3,332.7 282.0,332.8 Q290.6,332.8 298.7,333.1 Q306.8,333.3 314.6,333.4 Q322.4,333.4 330.9,333.2 Q339.3,333.0 347.6,333.1 Q355.8,333.1 359.6,333.2 L363.4,333.4" stroke="#7d4f7c" stroke-width="1.7" fill="none"/>
<path d="M257.3,302.4 Q300.0,302.2 307.5,301.4 Q315.0,300.6 322.5,299.6 Q330.0,298.6 336.5,297.3 Q343.0,296.0 347.5,295.3 Q352.0,294.6 357.7,294.7 L363.4,294.8 L363.4,309.5 Q362.1,311.1 358.7,311.3 Q355.2,311.5 350.5,310.6 Q345.8,309.6 341.2,309.7 Q336.6,309.9 332.4,310.7 Q328.2,311.6 324.8,311.7 Q321.5,311.9 318.2,311.2 Q314.9,310.5 311.0,311.5 Q307.1,312.4 302.8,312.4 Q298.5,312.5 294.3,312.5 Q290.2,312.5 286.4,312.3 Q282.6,312.2 278.3,312.3 Q273.9,312.4 269.1,311.9 Q264.2,311.5 260.8,311.8 L257.3,312.2 Z" fill="#f3a4a0"/>
<path d="M257.3,312.2 Q264.2,311.5 269.1,311.9 Q273.9,312.4 278.3,312.3 Q282.6,312.2 286.4,312.3 Q290.2,312.5 294.3,312.5 Q298.5,312.5 302.8,312.4 Q307.1,312.4 311.0,311.5 Q314.9,310.5 318.2,311.2 Q321.5,311.9 324.8,311.7 Q328.2,311.6 332.4,310.7 Q336.6,309.9 341.2,309.7 Q345.8,309.6 350.5,310.6 Q355.2,311.5 358.7,311.3 Q362.1,311.1 362.8,310.3 L363.4,309.5" stroke="#6f4a86" stroke-width="1.2" fill="none"/>
<path d="M257.3,303.6 Q300.0,303.4 307.5,302.6 Q315.0,301.8 322.5,300.8 Q330.0,299.8 336.5,298.5 Q343.0,297.2 347.5,296.5 Q352.0,295.8 357.7,295.9 L363.4,296.0" stroke="#ee8c78" stroke-width="2.8" fill="none"/>
<path d="M257.3,302.7 Q300.0,302.5 307.5,301.7 Q315.0,300.9 322.5,299.9 Q330.0,298.9 336.5,297.6 Q343.0,296.3 347.5,295.6 Q352.0,294.9 357.7,295.0 L363.4,295.1" stroke="#c9796b" stroke-width="0.7" fill="none"/>
<ellipse cx="345.8" cy="306.5" rx="2.8" ry="2.2" fill="#c08e94" stroke="#a9767f" stroke-width="0.5" transform="rotate(-1 345.8 306.5)"/><path d="M344.3,305.8 L347.1,307.6 M345.3,305.0 L347.6,306.5 M344.0,307.1 L346.0,308.1" stroke="#a06a76" stroke-width="0.45" fill="none"/><ellipse cx="359.0" cy="306.5" rx="2.9" ry="2.2" fill="#c08e94" stroke="#a9767f" stroke-width="0.5" transform="rotate(-8 359.0 306.5)"/><path d="M357.4,305.7 L360.3,307.6 M358.5,304.9 L360.9,306.5 M357.2,307.1 L359.3,308.1" stroke="#a06a76" stroke-width="0.45" fill="none"/><ellipse cx="326.6" cy="307.1" rx="2.3" ry="1.8" fill="#c08e94" stroke="#a9767f" stroke-width="0.5" transform="rotate(22 326.6 307.1)"/><path d="M325.3,306.4 L327.7,307.9 M326.2,305.8 L328.1,307.1 M325.1,307.5 L326.8,308.3" stroke="#a06a76" stroke-width="0.45" fill="none"/><ellipse cx="352.6" cy="303.0" rx="2.6" ry="2.0" fill="#c08e94" stroke="#a9767f" stroke-width="0.5" transform="rotate(-25 352.6 303.0)"/><path d="M351.2,302.3 L353.8,303.9 M352.1,301.5 L354.3,303.0 M350.9,303.5 L352.9,304.4" stroke="#a06a76" stroke-width="0.45" fill="none"/><ellipse cx="334.7" cy="304.5" rx="2.8" ry="2.2" fill="#c08e94" stroke="#a9767f" stroke-width="0.5" transform="rotate(-22 334.7 304.5)"/><path d="M333.2,303.7 L336.0,305.5 M334.2,303.0 L336.5,304.5 M332.9,305.0 L334.9,306.0" stroke="#a06a76" stroke-width="0.45" fill="none"/>
<g transform="translate(349.3,291.6) rotate(-8) scale(0.85)"><path d="M0,-4.6 C3.2,-4.6 3.6,-1 2.2,1.6 L0,5.2 L-2.2,1.6 C-3.6,-1 -3.2,-4.6 0,-4.6 Z" fill="#8f78c8" stroke="#6d58b0" stroke-width="0.5"/><path d="M0,-2.6 C1.2,-2.6 1.3,-0.6 0.8,0.6 L0,2.6 L-0.8,0.6 C-1.3,-0.6 -1.2,-2.6 0,-2.6 Z" fill="#f6a021"/></g>
</g>
<g id="seg3">
<path d="M491.2,108.0 A67.00,117.85 0 0 1 558.20,225.85 A67.00,115.65 0 0 1 491.20,341.50 Z" fill="#6d070b"/>
<path d="M491.2,114.7 A72.00,112.24 0 0 1 553.20,225.85 A72.00,108.20 0 0 1 491.20,333.00 Z" fill="url(#cellD)"/>
<path d="M491.2,114.7 A72.00,112.24 0 0 1 553.20,225.85 A72.00,108.20 0 0 1 491.20,333.00" fill="none" stroke="#5b3a70" stroke-width="1.3" opacity="0.9"/>
<path d="M491.2,137.3 A54.50,90.08 0 0 1 535.70,225.85 A54.50,94.76 0 0 1 491.20,319.00 Z" fill="#83565f"/>
<clipPath id="e2c2"><path d="M491.2,137.3 A54.50,90.08 0 0 1 535.70,225.85 A54.50,94.76 0 0 1 491.20,319.00 Z"/></clipPath>
<g clip-path="url(#e2c2)">
<ellipse cx="494.6" cy="281.5" rx="2.2" ry="1.6" fill="#c4862c"/><ellipse cx="507.8" cy="287.8" rx="2.3" ry="2.0" fill="#75589a"/><ellipse cx="499.7" cy="304.4" rx="1.6" ry="1.2" fill="#c4862c"/><ellipse cx="507.6" cy="268.3" rx="2.2" ry="1.6" fill="#c4862c"/><ellipse cx="504.0" cy="279.3" rx="1.6" ry="1.5" fill="#c4862c"/><ellipse cx="503.9" cy="297.8" rx="2.2" ry="2.2" fill="#c4862c"/><ellipse cx="496.2" cy="293.9" rx="1.4" ry="1.3" fill="#c4862c"/>
</g>
<path d="M491.2,137.3 A54.50,90.08 0 0 1 535.70,225.85 A54.50,94.76 0 0 1 491.20,319.00" fill="none" stroke="#5a4a92" stroke-width="1.1"/>
<path d="M491.2,148.7 A44.50,76.92 0 0 1 525.70,223.65 A44.50,56.39 0 0 1 491.20,278.60" fill="none" stroke="#aa6b60" stroke-width="10.5" stroke-linejoin="round"/>
<path d="M392.3,148.7 H491.2 A44.50,76.92 0 0 1 525.70,223.65 A44.50,56.39 0 0 1 491.20,278.60 L491.2,278.6 Q478.0,279.6 470.0,280.1 Q462.0,280.6 451.0,282.4 Q440.0,284.2 425.0,286.3 Q410.0,288.4 397.6,290.1 L385.3,291.8 L392.3,291.8 L401.3,288.8 L404.1,285.7 L406.9,282.7 L410.3,279.6 L410.8,276.6 L412.5,273.5 L414.6,270.5 L414.0,267.4 L414.9,264.4 L417.8,261.4 L418.4,258.3 L417.6,255.3 L418.1,252.2 L420.0,249.2 L421.0,246.1 L419.5,243.1 L421.8,240.0 L421.9,237.0 L421.3,234.0 L421.0,230.9 L420.3,227.9 L420.1,224.8 L422.5,221.8 L420.5,218.7 L421.6,215.7 L420.2,212.6 L421.5,209.6 L420.6,206.5 L419.5,203.5 L418.8,200.5 L419.8,197.4 L417.7,194.4 L417.5,191.3 L417.8,188.3 L417.9,185.2 L416.5,182.2 L414.8,179.1 L415.6,176.1 L412.7,173.1 L411.1,170.0 L410.4,167.0 L409.5,163.9 L406.8,160.9 L405.1,157.8 L403.3,154.8 L400.6,151.7 L392.3,148.7 Z" fill="url(#lg2)"/>
<path d="M392.3,148.7 H491.2 A44.50,76.92 0 0 1 525.70,223.65 A44.50,56.39 0 0 1 491.20,278.60 L491.2,278.6 Q478.0,279.6 470.0,280.1 Q462.0,280.6 451.0,282.4 Q440.0,284.2 425.0,286.3 Q410.0,288.4 397.6,290.1 L385.3,291.8 L392.3,291.8 L401.3,288.8 L404.1,285.7 L406.9,282.7 L410.3,279.6 L410.8,276.6 L412.5,273.5 L414.6,270.5 L414.0,267.4 L414.9,264.4 L417.8,261.4 L418.4,258.3 L417.6,255.3 L418.1,252.2 L420.0,249.2 L421.0,246.1 L419.5,243.1 L421.8,240.0 L421.9,237.0 L421.3,234.0 L421.0,230.9 L420.3,227.9 L420.1,224.8 L422.5,221.8 L420.5,218.7 L421.6,215.7 L420.2,212.6 L421.5,209.6 L420.6,206.5 L419.5,203.5 L418.8,200.5 L419.8,197.4 L417.7,194.4 L417.5,191.3 L417.8,188.3 L417.9,185.2 L416.5,182.2 L414.8,179.1 L415.6,176.1 L412.7,173.1 L411.1,170.0 L410.4,167.0 L409.5,163.9 L406.8,160.9 L405.1,157.8 L403.3,154.8 L400.6,151.7 L392.3,148.7 Z" fill="url(#net)"/>
<clipPath id="lc2"><path d="M392.3,148.7 H491.2 A44.50,76.92 0 0 1 525.70,223.65 A44.50,56.39 0 0 1 491.20,278.60 L491.2,278.6 Q478.0,279.6 470.0,280.1 Q462.0,280.6 451.0,282.4 Q440.0,284.2 425.0,286.3 Q410.0,288.4 397.6,290.1 L385.3,291.8 L392.3,291.8 L401.3,288.8 L404.1,285.7 L406.9,282.7 L410.3,279.6 L410.8,276.6 L412.5,273.5 L414.6,270.5 L414.0,267.4 L414.9,264.4 L417.8,261.4 L418.4,258.3 L417.6,255.3 L418.1,252.2 L420.0,249.2 L421.0,246.1 L419.5,243.1 L421.8,240.0 L421.9,237.0 L421.3,234.0 L421.0,230.9 L420.3,227.9 L420.1,224.8 L422.5,221.8 L420.5,218.7 L421.6,215.7 L420.2,212.6 L421.5,209.6 L420.6,206.5 L419.5,203.5 L418.8,200.5 L419.8,197.4 L417.7,194.4 L417.5,191.3 L417.8,188.3 L417.9,185.2 L416.5,182.2 L414.8,179.1 L415.6,176.1 L412.7,173.1 L411.1,170.0 L410.4,167.0 L409.5,163.9 L406.8,160.9 L405.1,157.8 L403.3,154.8 L400.6,151.7 L392.3,148.7 Z"/></clipPath>
<g clip-path="url(#lc2)"><path d="M385.3,291.8 Q410.0,288.4 425.0,286.3 Q440.0,284.2 451.0,282.4 Q462.0,280.6 470.0,280.1 Q478.0,279.6 484.6,279.1 Q491.2,278.6 495.6,277.3 Q500.0,276.0 505.0,272.0 Q510.0,268.0 514.0,261.5 L518.0,255.0" stroke="#e2231b" stroke-width="30" fill="none" opacity="0.85" filter="url(#blur5)"/><path d="M385.3,291.8 Q410.0,288.4 425.0,286.3 Q440.0,284.2 451.0,282.4 Q462.0,280.6 470.0,280.1 Q478.0,279.6 484.6,279.1 Q491.2,278.6 495.6,277.3 Q500.0,276.0 505.0,272.0 Q510.0,268.0 514.0,261.5 L518.0,255.0" stroke="#a30f0f" stroke-width="7" fill="none" opacity="0.6" filter="url(#blur3)"/></g>
<rect x="385.3" y="108.0" width="105.9" height="40.7" fill="#ed2d23"/>
<path d="M385.3,110.8 Q401.1,109.7 407.3,110.1 Q413.4,110.6 420.9,110.5 Q428.4,110.4 435.0,110.4 Q441.6,110.3 448.8,110.3 Q456.0,110.3 462.4,110.2 Q468.7,110.1 475.5,110.3 Q482.2,110.5 486.7,110.6 L491.2,110.8 M385.3,112.6 Q403.3,112.8 412.7,112.7 Q422.0,112.7 431.4,112.3 Q440.7,111.9 449.2,112.4 Q457.6,113.0 466.4,112.9 Q475.2,112.9 482.9,112.6 Q490.6,112.4 490.9,112.4 L491.2,112.5" stroke="#d82019" stroke-width="0.6" fill="none" opacity="0.8"/>
<rect x="385.3" y="114.7" width="105.9" height="22.8" fill="url(#cellF)"/>
<path d="M385.3,115.0 Q402.6,114.6 410.2,114.8 Q417.8,115.0 425.3,114.8 Q432.7,114.6 441.3,114.7 Q449.9,114.7 457.2,114.6 Q464.5,114.5 473.1,114.6 Q481.7,114.6 486.5,114.5 L491.2,114.4" stroke="#86567e" stroke-width="1.7" fill="none" opacity="0.9"/>
<rect x="385.3" y="137.3" width="105.9" height="11.4" fill="#f3a4a0"/>
<path d="M385.3,137.4 Q404.1,137.3 412.9,137.5 Q421.7,137.6 429.8,137.6 Q437.8,137.5 446.3,137.5 Q454.8,137.5 464.2,137.3 Q473.6,137.1 482.4,137.2 L491.2,137.2" stroke="#7d4a78" stroke-width="1.2" fill="none" opacity="0.9"/>
<path d="M385.3,144.7 Q390.5,145.1 394.5,144.8 Q398.6,144.5 401.7,144.8 Q404.7,145.2 407.4,145.1 Q410.1,145.1 412.8,144.8 Q415.5,144.5 418.8,144.5 Q422.2,144.6 426.4,144.8 Q430.7,145.0 434.9,145.1 Q439.1,145.1 441.9,144.9 Q444.7,144.8 448.2,144.8 Q451.8,144.8 454.5,144.8 Q457.1,144.8 461.6,144.6 Q466.0,144.4 469.7,144.6 Q473.4,144.9 476.3,144.6 Q479.2,144.4 481.8,144.8 Q484.5,145.1 487.5,145.1 Q490.5,145.0 490.9,145.0 L491.2,144.9 L491.2,148.7 L385.3,148.7 Z" fill="#c07866"/>
<rect x="385.3" y="147.8" width="105.9" height="0.9" fill="#9a5a4e" opacity="0.7"/>
<path d="M385.3,332.2 L491.2,332.0 V341.5 L385.3,342.0 Z" fill="#ed2d23"/>
<path d="M385.3,337.0 Q398.9,335.7 407.4,335.8 Q415.9,336.0 422.6,336.3 Q429.3,336.6 436.5,336.8 Q443.7,336.9 450.7,337.0 Q457.6,337.0 464.8,336.8 Q471.9,336.5 480.3,336.6 Q488.7,336.7 489.9,336.7 L491.2,336.7 M385.3,338.6 Q402.2,339.0 412.0,339.1 Q421.8,339.3 431.2,339.0 Q440.6,338.7 449.7,339.3 Q458.7,339.8 467.7,339.9 Q476.8,340.0 484.0,339.6 L491.2,339.2" stroke="#d82019" stroke-width="0.6" fill="none" opacity="0.8"/>
<path d="M385.3,319.9 Q391.4,318.9 394.8,319.5 Q398.3,320.1 402.6,320.2 Q407.0,320.4 410.2,319.8 Q413.3,319.2 416.4,318.9 Q419.5,318.6 423.5,318.3 Q427.5,318.1 430.9,318.9 Q434.3,319.7 438.4,319.1 Q442.5,318.5 446.6,319.2 Q450.8,320.0 453.8,320.0 Q456.8,320.0 461.2,319.3 Q465.6,318.7 468.9,319.5 Q472.3,320.3 475.9,319.1 Q479.6,318.0 482.8,319.0 Q486.0,319.9 488.6,319.9 L491.2,319.8 L491.2,333.0 L385.3,333.2 Z" fill="url(#cellF)"/>
<path d="M385.3,333.6 Q399.5,333.4 407.5,333.4 Q415.5,333.5 423.3,333.5 Q431.1,333.4 438.4,333.5 Q445.7,333.5 453.5,333.1 Q461.4,332.8 469.1,333.0 Q476.8,333.1 483.8,333.0 Q490.9,332.9 491.0,332.8 L491.2,332.7" stroke="#7d4f7c" stroke-width="1.7" fill="none"/>
<path d="M385.3,291.8 Q410.0,288.4 425.0,286.3 Q440.0,284.2 451.0,282.4 Q462.0,280.6 470.0,280.1 Q478.0,279.6 484.6,279.1 L491.2,278.6 L491.2,319.8 Q486.0,319.9 482.8,319.0 Q479.6,318.0 475.9,319.1 Q472.3,320.3 468.9,319.5 Q465.6,318.7 461.2,319.3 Q456.8,320.0 453.8,320.0 Q450.8,320.0 446.6,319.2 Q442.5,318.5 438.4,319.1 Q434.3,319.7 430.9,318.9 Q427.5,318.1 423.5,318.3 Q419.5,318.6 416.4,318.9 Q413.3,319.2 410.2,319.8 Q407.0,320.4 402.6,320.2 Q398.3,320.1 394.8,319.5 Q391.4,318.9 388.4,319.4 L385.3,319.9 Z" fill="#f3a4a0"/>
<path d="M385.3,319.9 Q391.4,318.9 394.8,319.5 Q398.3,320.1 402.6,320.2 Q407.0,320.4 410.2,319.8 Q413.3,319.2 416.4,318.9 Q419.5,318.6 423.5,318.3 Q427.5,318.1 430.9,318.9 Q434.3,319.7 438.4,319.1 Q442.5,318.5 446.6,319.2 Q450.8,320.0 453.8,320.0 Q456.8,320.0 461.2,319.3 Q465.6,318.7 468.9,319.5 Q472.3,320.3 475.9,319.1 Q479.6,318.0 482.8,319.0 Q486.0,319.9 488.6,319.9 L491.2,319.8" stroke="#6f4a86" stroke-width="1.2" fill="none"/>
<path d="M385.3,293.0 Q410.0,289.6 425.0,287.5 Q440.0,285.4 451.0,283.6 Q462.0,281.8 470.0,281.3 Q478.0,280.8 484.6,280.3 L491.2,279.8" stroke="#ee8c78" stroke-width="2.8" fill="none"/>
<path d="M385.3,292.1 Q410.0,288.7 425.0,286.6 Q440.0,284.5 451.0,282.7 Q462.0,280.9 470.0,280.4 Q478.0,279.9 484.6,279.4 L491.2,278.9" stroke="#c9796b" stroke-width="0.7" fill="none"/>
<ellipse cx="468.1" cy="312.1" rx="2.0" ry="1.8" fill="#f79b1f" transform="rotate(-35 468.1 312.1)"/><ellipse cx="435.2" cy="309.9" rx="1.9" ry="1.4" fill="#f79b1f" transform="rotate(22 435.2 309.9)"/><ellipse cx="465.8" cy="292.7" rx="2.4" ry="1.9" fill="#f79b1f" transform="rotate(17 465.8 292.7)"/><ellipse cx="456.8" cy="289.9" rx="2.1" ry="1.8" fill="#f79b1f" transform="rotate(35 456.8 289.9)"/><ellipse cx="457.2" cy="312.9" rx="1.9" ry="1.8" fill="#f79b1f" transform="rotate(-35 457.2 312.9)"/><ellipse cx="396.8" cy="311.4" rx="2.4" ry="1.9" fill="#f79b1f" transform="rotate(36 396.8 311.4)"/><ellipse cx="447.3" cy="290.2" rx="2.2" ry="2.0" fill="#f79b1f" transform="rotate(-6 447.3 290.2)"/><ellipse cx="424.1" cy="304.4" rx="1.8" ry="1.7" fill="#f79b1f" transform="rotate(25 424.1 304.4)"/><ellipse cx="392.8" cy="298.0" rx="2.3" ry="2.0" fill="#f79b1f" transform="rotate(-2 392.8 298.0)"/><ellipse cx="487.1" cy="314.6" rx="2.2" ry="1.7" fill="#f79b1f" transform="rotate(-11 487.1 314.6)"/><ellipse cx="477.9" cy="298.9" rx="2.4" ry="1.9" fill="#f79b1f" transform="rotate(10 477.9 298.9)"/><ellipse cx="468.4" cy="301.3" rx="2.0" ry="1.8" fill="#f79b1f" transform="rotate(-28 468.4 301.3)"/><ellipse cx="459.2" cy="297.5" rx="1.6" ry="1.4" fill="#f79b1f" transform="rotate(-32 459.2 297.5)"/><ellipse cx="399.9" cy="303.9" rx="1.9" ry="1.5" fill="#f79b1f" transform="rotate(12 399.9 303.9)"/><ellipse cx="413.4" cy="299.0" rx="2.5" ry="2.2" fill="#f79b1f" transform="rotate(32 413.4 299.0)"/><ellipse cx="418.4" cy="311.5" rx="1.9" ry="1.7" fill="#f79b1f" transform="rotate(16 418.4 311.5)"/><ellipse cx="482.7" cy="293.4" rx="1.5" ry="1.2" fill="#f79b1f" transform="rotate(27 482.7 293.4)"/>
<ellipse cx="410.0" cy="305.3" rx="3.1" ry="2.4" fill="#c08e94" stroke="#a9767f" stroke-width="0.5" transform="rotate(-20 410.0 305.3)"/><path d="M408.3,304.4 L411.5,306.4 M409.5,303.5 L412.0,305.3 M408.0,305.8 L410.3,307.0" stroke="#a06a76" stroke-width="0.45" fill="none"/><ellipse cx="446.1" cy="297.1" rx="3.2" ry="2.4" fill="#c08e94" stroke="#a9767f" stroke-width="0.5" transform="rotate(12 446.1 297.1)"/><path d="M444.4,296.2 L447.5,298.3 M445.5,295.4 L448.1,297.1 M444.1,297.7 L446.4,298.8" stroke="#a06a76" stroke-width="0.45" fill="none"/><ellipse cx="476.1" cy="285.9" rx="2.7" ry="2.1" fill="#c08e94" stroke="#a9767f" stroke-width="0.5" transform="rotate(-5 476.1 285.9)"/><path d="M474.6,285.2 L477.3,286.9 M475.6,284.5 L477.8,285.9 M474.4,286.4 L476.3,287.4" stroke="#a06a76" stroke-width="0.45" fill="none"/><ellipse cx="443.3" cy="314.3" rx="3.0" ry="2.3" fill="#c08e94" stroke="#a9767f" stroke-width="0.5" transform="rotate(-13 443.3 314.3)"/><path d="M441.6,313.5 L444.7,315.4 M442.7,312.6 L445.2,314.3 M441.4,314.8 L443.6,316.0" stroke="#a06a76" stroke-width="0.45" fill="none"/><ellipse cx="427.3" cy="297.2" rx="2.4" ry="1.9" fill="#c08e94" stroke="#a9767f" stroke-width="0.5" transform="rotate(-12 427.3 297.2)"/><path d="M426.0,296.5 L428.4,298.1 M426.8,295.9 L428.8,297.2 M425.8,297.6 L427.5,298.5" stroke="#a06a76" stroke-width="0.45" fill="none"/><ellipse cx="434.8" cy="300.2" rx="2.4" ry="1.8" fill="#c08e94" stroke="#a9767f" stroke-width="0.5" transform="rotate(27 434.8 300.2)"/><path d="M433.5,299.5 L435.9,301.1 M434.4,298.9 L436.3,300.2 M433.3,300.6 L435.0,301.5" stroke="#a06a76" stroke-width="0.45" fill="none"/><ellipse cx="479.0" cy="312.8" rx="2.7" ry="2.1" fill="#c08e94" stroke="#a9767f" stroke-width="0.5" transform="rotate(-11 479.0 312.8)"/><path d="M477.6,312.0 L480.3,313.8 M478.5,311.3 L480.8,312.8 M477.3,313.3 L479.3,314.3" stroke="#a06a76" stroke-width="0.45" fill="none"/><ellipse cx="487.2" cy="306.3" rx="2.6" ry="2.0" fill="#c08e94" stroke="#a9767f" stroke-width="0.5" transform="rotate(4 487.2 306.3)"/><path d="M485.8,305.6 L488.4,307.3 M486.7,304.9 L488.9,306.3 M485.5,306.8 L487.4,307.7" stroke="#a06a76" stroke-width="0.45" fill="none"/><ellipse cx="451.3" cy="305.2" rx="2.9" ry="2.2" fill="#c08e94" stroke="#a9767f" stroke-width="0.5" transform="rotate(-9 451.3 305.2)"/><path d="M449.7,304.4 L452.6,306.3 M450.7,303.6 L453.1,305.2 M449.4,305.7 L451.5,306.8" stroke="#a06a76" stroke-width="0.45" fill="none"/><ellipse cx="433.1" cy="292.6" rx="2.5" ry="1.9" fill="#c08e94" stroke="#a9767f" stroke-width="0.5" transform="rotate(-5 433.1 292.6)"/><path d="M431.7,291.9 L434.2,293.5 M432.6,291.2 L434.7,292.6 M431.5,293.0 L433.3,293.9" stroke="#a06a76" stroke-width="0.45" fill="none"/><ellipse cx="460.8" cy="306.0" rx="3.0" ry="2.3" fill="#c08e94" stroke="#a9767f" stroke-width="0.5" transform="rotate(22 460.8 306.0)"/><path d="M459.2,305.1 L462.2,307.0 M460.3,304.3 L462.7,306.0 M458.9,306.5 L461.1,307.6" stroke="#a06a76" stroke-width="0.45" fill="none"/><ellipse cx="419.5" cy="292.8" rx="2.3" ry="1.8" fill="#c08e94" stroke="#a9767f" stroke-width="0.5" transform="rotate(30 419.5 292.8)"/><path d="M418.3,292.2 L420.6,293.7 M419.1,291.6 L421.0,292.8 M418.1,293.3 L419.8,294.1" stroke="#a06a76" stroke-width="0.45" fill="none"/><ellipse cx="443.4" cy="305.7" rx="2.4" ry="1.8" fill="#c08e94" stroke="#a9767f" stroke-width="0.5" transform="rotate(-8 443.4 305.7)"/><path d="M442.1,305.0 L444.4,306.5 M442.9,304.4 L444.9,305.7 M441.8,306.1 L443.6,307.0" stroke="#a06a76" stroke-width="0.45" fill="none"/>
<g transform="translate(459.6,279.6) rotate(22) scale(1.0)"><path d="M0,-4.6 C3.2,-4.6 3.6,-1 2.2,1.6 L0,5.2 L-2.2,1.6 C-3.6,-1 -3.2,-4.6 0,-4.6 Z" fill="#8f78c8" stroke="#6d58b0" stroke-width="0.5"/><path d="M0,-2.6 C1.2,-2.6 1.3,-0.6 0.8,0.6 L0,2.6 L-0.8,0.6 C-1.3,-0.6 -1.2,-2.6 0,-2.6 Z" fill="#f6a021"/></g>
</g>
<g id="seg4">
<path d="M613.5,107.0 A67.00,118.95 0 0 1 680.50,225.95 A67.00,120.35 0 0 1 613.50,346.30 Z" fill="#6d070b"/>
<path d="M613.5,114.4 A72.00,112.64 0 0 1 675.50,225.95 A72.00,113.35 0 0 1 613.50,338.20 Z" fill="url(#cellD)"/>
<path d="M613.5,114.4 A72.00,112.64 0 0 1 675.50,225.95 A72.00,113.35 0 0 1 613.50,338.20" fill="none" stroke="#5b3a70" stroke-width="1.3" opacity="0.9"/>
<path d="M613.5,136.3 A54.50,91.20 0 0 1 658.00,225.95 A54.50,93.23 0 0 1 613.50,317.60 Z" fill="#83565f"/>
<clipPath id="e2c3"><path d="M613.5,136.3 A54.50,91.20 0 0 1 658.00,225.95 A54.50,93.23 0 0 1 613.50,317.60 Z"/></clipPath>
<g clip-path="url(#e2c3)">
<ellipse cx="628.5" cy="238.5" rx="1.5" ry="1.4" fill="#c4862c"/><ellipse cx="640.2" cy="271.4" rx="1.7" ry="1.5" fill="#c4862c"/><ellipse cx="630.7" cy="230.8" rx="1.5" ry="1.2" fill="#c4862c"/><ellipse cx="646.0" cy="237.0" rx="2.1" ry="1.5" fill="#c4862c"/><ellipse cx="639.5" cy="227.6" rx="2.2" ry="2.2" fill="#75589a"/><ellipse cx="646.2" cy="245.7" rx="1.5" ry="1.3" fill="#c4862c"/><ellipse cx="618.9" cy="305.7" rx="2.0" ry="1.8" fill="#c4862c"/><ellipse cx="620.7" cy="289.2" rx="2.1" ry="1.8" fill="#c4862c"/><ellipse cx="636.6" cy="250.9" rx="2.0" ry="2.0" fill="#c4862c"/><ellipse cx="633.0" cy="275.6" rx="1.6" ry="1.4" fill="#c4862c"/><ellipse cx="626.3" cy="252.4" rx="1.6" ry="1.2" fill="#c4862c"/><ellipse cx="632.4" cy="291.9" rx="2.1" ry="1.8" fill="#c4862c"/><ellipse cx="621.7" cy="245.2" rx="1.7" ry="1.4" fill="#75589a"/><ellipse cx="617.1" cy="296.8" rx="1.6" ry="1.5" fill="#c4862c"/><ellipse cx="626.4" cy="300.2" rx="1.8" ry="1.5" fill="#75589a"/><ellipse cx="637.3" cy="284.8" rx="1.6" ry="1.5" fill="#c4862c"/>
<path d="M613.5,257.2 L640.0,250.0 L650.0,249.0 L646.0,256.0 L639.6,264.5 L632.6,275.2 L624.0,284.3 L613.5,287.2 Z" fill="#8b8a2b"/>
<path d="M646,256 L639.6,264.5 L632.6,275.2 L624,284.3 L613.5,287.2" stroke="#a8441c" stroke-width="0.7" fill="none"/>
<path d="M616,268 Q626,262 640,258" stroke="#7a7a24" stroke-width="0.5" fill="none"/>
</g>
<path d="M613.5,136.3 A54.50,91.20 0 0 1 658.00,225.95 A54.50,93.23 0 0 1 613.50,317.60" fill="none" stroke="#5a4a92" stroke-width="1.1"/>
<path d="M613.5,147.9 A37.50,57.17 0 0 1 641.00,203.00 A37.50,41.92 0 0 1 613.50,243.40" fill="none" stroke="#aa6b60" stroke-width="7" stroke-linejoin="round"/>
<path d="M515.0,147.9 H613.5 A37.50,57.17 0 0 1 641.00,203.00 A37.50,41.92 0 0 1 613.50,243.40 L613.5,243.4 Q596.0,246.6 585.5,249.5 Q575.0,252.4 563.5,255.8 Q552.0,259.2 541.0,262.8 Q530.0,266.4 519.0,270.0 L508.0,273.6 L515.0,273.6 L523.0,270.5 L527.2,267.5 L531.2,264.4 L533.5,261.3 L534.4,258.3 L536.0,255.2 L537.0,252.1 L536.9,249.1 L537.6,246.0 L538.4,242.9 L541.4,239.9 L541.5,236.8 L542.7,233.7 L540.7,230.7 L542.6,227.6 L542.5,224.5 L543.3,221.5 L542.3,218.4 L544.1,215.3 L541.6,212.3 L542.7,209.2 L543.1,206.2 L543.3,203.1 L542.6,200.0 L542.1,197.0 L542.0,193.9 L541.8,190.8 L539.8,187.8 L540.1,184.7 L539.9,181.6 L539.1,178.6 L537.0,175.5 L537.0,172.4 L536.1,169.4 L534.1,166.3 L532.8,163.2 L530.5,160.2 L529.1,157.1 L526.7,154.0 L522.1,151.0 L515.0,147.9 Z" fill="url(#lg3)"/>
<path d="M515.0,147.9 H613.5 A37.50,57.17 0 0 1 641.00,203.00 A37.50,41.92 0 0 1 613.50,243.40 L613.5,243.4 Q596.0,246.6 585.5,249.5 Q575.0,252.4 563.5,255.8 Q552.0,259.2 541.0,262.8 Q530.0,266.4 519.0,270.0 L508.0,273.6 L515.0,273.6 L523.0,270.5 L527.2,267.5 L531.2,264.4 L533.5,261.3 L534.4,258.3 L536.0,255.2 L537.0,252.1 L536.9,249.1 L537.6,246.0 L538.4,242.9 L541.4,239.9 L541.5,236.8 L542.7,233.7 L540.7,230.7 L542.6,227.6 L542.5,224.5 L543.3,221.5 L542.3,218.4 L544.1,215.3 L541.6,212.3 L542.7,209.2 L543.1,206.2 L543.3,203.1 L542.6,200.0 L542.1,197.0 L542.0,193.9 L541.8,190.8 L539.8,187.8 L540.1,184.7 L539.9,181.6 L539.1,178.6 L537.0,175.5 L537.0,172.4 L536.1,169.4 L534.1,166.3 L532.8,163.2 L530.5,160.2 L529.1,157.1 L526.7,154.0 L522.1,151.0 L515.0,147.9 Z" fill="url(#net)"/>
<clipPath id="lc3"><path d="M515.0,147.9 H613.5 A37.50,57.17 0 0 1 641.00,203.00 A37.50,41.92 0 0 1 613.50,243.40 L613.5,243.4 Q596.0,246.6 585.5,249.5 Q575.0,252.4 563.5,255.8 Q552.0,259.2 541.0,262.8 Q530.0,266.4 519.0,270.0 L508.0,273.6 L515.0,273.6 L523.0,270.5 L527.2,267.5 L531.2,264.4 L533.5,261.3 L534.4,258.3 L536.0,255.2 L537.0,252.1 L536.9,249.1 L537.6,246.0 L538.4,242.9 L541.4,239.9 L541.5,236.8 L542.7,233.7 L540.7,230.7 L542.6,227.6 L542.5,224.5 L543.3,221.5 L542.3,218.4 L544.1,215.3 L541.6,212.3 L542.7,209.2 L543.1,206.2 L543.3,203.1 L542.6,200.0 L542.1,197.0 L542.0,193.9 L541.8,190.8 L539.8,187.8 L540.1,184.7 L539.9,181.6 L539.1,178.6 L537.0,175.5 L537.0,172.4 L536.1,169.4 L534.1,166.3 L532.8,163.2 L530.5,160.2 L529.1,157.1 L526.7,154.0 L522.1,151.0 L515.0,147.9 Z"/></clipPath>
<g clip-path="url(#lc3)"><path d="M508.0,273.6 Q530.0,266.4 541.0,262.8 Q552.0,259.2 563.5,255.8 Q575.0,252.4 585.5,249.5 Q596.0,246.6 604.8,245.0 Q613.5,243.4 617.8,241.4 Q622.0,239.5 626.5,235.2 Q631.0,231.0 634.2,225.0 Q637.5,219.0 639.0,212.5 L640.5,206.0" stroke="#e2231b" stroke-width="30" fill="none" opacity="0.85" filter="url(#blur5)"/><path d="M508.0,273.6 Q530.0,266.4 541.0,262.8 Q552.0,259.2 563.5,255.8 Q575.0,252.4 585.5,249.5 Q596.0,246.6 604.8,245.0 Q613.5,243.4 617.8,241.4 Q622.0,239.5 626.5,235.2 Q631.0,231.0 634.2,225.0 Q637.5,219.0 639.0,212.5 L640.5,206.0" stroke="#a30f0f" stroke-width="7" fill="none" opacity="0.6" filter="url(#blur3)"/></g>
<rect x="508.0" y="107.0" width="105.5" height="40.9" fill="#ed2d23"/>
<path d="M508.0,110.0 Q523.8,108.9 530.0,109.4 Q536.1,109.8 543.6,109.7 Q551.1,109.6 557.7,109.6 Q564.3,109.6 571.5,109.6 Q578.7,109.5 585.1,109.4 Q591.4,109.4 598.2,109.5 Q604.9,109.7 609.2,109.8 L613.5,110.0 M508.0,112.0 Q526.0,112.2 535.4,112.2 Q544.7,112.2 554.1,111.7 Q563.4,111.3 571.9,111.9 Q580.3,112.4 589.1,112.4 Q597.9,112.4 605.6,112.1 Q613.3,111.8 613.4,111.9 L613.5,111.9" stroke="#d82019" stroke-width="0.6" fill="none" opacity="0.8"/>
<rect x="508.0" y="114.4" width="105.5" height="22.1" fill="url(#cellF)"/>
<path d="M508.0,114.4 Q524.7,114.4 531.9,114.4 Q539.1,114.3 546.2,114.4 Q553.4,114.5 561.1,114.6 Q568.9,114.7 577.0,114.6 Q585.1,114.6 592.8,114.5 Q600.5,114.4 607.0,114.4 L613.5,114.3" stroke="#86567e" stroke-width="1.7" fill="none" opacity="0.9"/>
<rect x="508.0" y="136.3" width="105.5" height="11.6" fill="#f3a4a0"/>
<path d="M508.0,136.4 Q527.7,136.1 536.0,136.1 Q544.3,136.1 553.5,136.2 Q562.7,136.3 572.0,136.4 Q581.4,136.4 590.0,136.3 Q598.7,136.2 606.1,136.3 L613.5,136.4" stroke="#7d4a78" stroke-width="1.2" fill="none" opacity="0.9"/>
<path d="M508.0,144.2 Q515.2,144.3 518.5,144.3 Q521.8,144.3 524.6,144.4 Q527.5,144.4 531.8,144.3 Q536.1,144.1 539.7,143.9 Q543.3,143.6 547.2,144.0 Q551.2,144.4 555.6,144.2 Q560.1,143.9 563.1,144.1 Q566.1,144.3 569.6,144.1 Q573.1,143.9 576.8,143.7 Q580.4,143.6 584.5,144.0 Q588.6,144.4 591.9,144.2 Q595.3,144.0 599.1,144.2 Q602.9,144.3 607.2,144.2 Q611.5,144.2 612.5,144.1 L613.5,144.1 L613.5,147.9 L508.0,147.9 Z" fill="#c07866"/>
<rect x="508.0" y="147.0" width="105.5" height="0.9" fill="#9a5a4e" opacity="0.7"/>
<path d="M508.0,332.0 L613.5,337.2 V346.3 L508.0,340.8 Z" fill="#ed2d23"/>
<path d="M508.0,336.8 Q524.8,337.6 531.5,337.7 Q538.1,337.9 545.5,338.2 Q552.8,338.5 559.6,338.6 Q566.3,338.8 573.7,339.2 Q581.1,339.6 588.5,339.8 Q595.9,340.0 602.6,340.9 Q609.3,341.7 611.4,341.6 L613.5,341.6 M508.0,339.1 Q526.5,340.4 535.1,340.8 Q543.6,341.1 553.4,341.8 Q563.2,342.5 571.6,342.8 Q579.9,343.0 589.2,343.4 Q598.4,343.8 606.0,344.2 L613.5,344.6" stroke="#d82019" stroke-width="0.6" fill="none" opacity="0.8"/>
<path d="M508.0,317.4 Q516.8,317.6 520.7,318.2 Q524.6,318.9 529.2,318.6 Q533.8,318.2 537.8,317.6 Q541.8,317.0 545.7,317.5 Q549.5,317.9 554.2,318.1 Q558.9,318.2 563.4,318.0 Q568.0,317.9 571.3,318.4 Q574.7,318.9 579.3,318.2 Q583.9,317.6 587.1,317.7 Q590.3,317.9 594.3,318.2 Q598.3,318.5 602.5,318.1 Q606.7,317.7 610.1,317.5 L613.5,317.3 L613.5,338.2 L508.0,333.0 Z" fill="url(#cellF)"/>
<path d="M508.0,333.1 Q525.6,333.8 534.0,334.4 Q542.4,335.0 550.4,335.4 Q558.5,335.7 566.9,336.1 Q575.4,336.6 582.5,336.7 Q589.5,336.8 598.5,337.4 Q607.5,338.1 610.5,338.2 L613.5,338.4" stroke="#7d4f7c" stroke-width="1.7" fill="none"/>
<path d="M508.0,273.6 Q530.0,266.4 541.0,262.8 Q552.0,259.2 563.5,255.8 Q575.0,252.4 585.5,249.5 Q596.0,246.6 604.8,245.0 L613.5,243.4 L613.5,317.3 Q606.7,317.7 602.5,318.1 Q598.3,318.5 594.3,318.2 Q590.3,317.9 587.1,317.7 Q583.9,317.6 579.3,318.2 Q574.7,318.9 571.3,318.4 Q568.0,317.9 563.4,318.0 Q558.9,318.2 554.2,318.1 Q549.5,317.9 545.7,317.5 Q541.8,317.0 537.8,317.6 Q533.8,318.2 529.2,318.6 Q524.6,318.9 520.7,318.2 Q516.8,317.6 512.4,317.5 L508.0,317.4 Z" fill="#f3a4a0"/>
<path d="M508.0,317.4 Q516.8,317.6 520.7,318.2 Q524.6,318.9 529.2,318.6 Q533.8,318.2 537.8,317.6 Q541.8,317.0 545.7,317.5 Q549.5,317.9 554.2,318.1 Q558.9,318.2 563.4,318.0 Q568.0,317.9 571.3,318.4 Q574.7,318.9 579.3,318.2 Q583.9,317.6 587.1,317.7 Q590.3,317.9 594.3,318.2 Q598.3,318.5 602.5,318.1 Q606.7,317.7 610.1,317.5 L613.5,317.3" stroke="#6f4a86" stroke-width="1.2" fill="none"/>
<path d="M508.0,274.8 Q530.0,267.6 541.0,264.0 Q552.0,260.4 563.5,257.0 Q575.0,253.6 585.5,250.7 Q596.0,247.8 604.8,246.2 L613.5,244.6" stroke="#ee8c78" stroke-width="2.8" fill="none"/>
<path d="M508.0,273.9 Q530.0,266.7 541.0,263.1 Q552.0,259.5 563.5,256.1 Q575.0,252.7 585.5,249.8 Q596.0,246.9 604.8,245.3 L613.5,243.7" stroke="#c9796b" stroke-width="0.7" fill="none"/>
<ellipse cx="536.3" cy="291.7" rx="1.5" ry="1.2" fill="#f79b1f" transform="rotate(-24 536.3 291.7)"/><ellipse cx="592.0" cy="293.9" rx="1.5" ry="1.3" fill="#f79b1f" transform="rotate(-25 592.0 293.9)"/><ellipse cx="556.4" cy="291.1" rx="1.8" ry="1.4" fill="#f79b1f" transform="rotate(-34 556.4 291.1)"/><ellipse cx="575.3" cy="313.3" rx="1.8" ry="1.4" fill="#f79b1f" transform="rotate(-28 575.3 313.3)"/><ellipse cx="516.7" cy="296.1" rx="2.2" ry="2.0" fill="#f79b1f" transform="rotate(22 516.7 296.1)"/><ellipse cx="511.3" cy="306.0" rx="2.0" ry="1.9" fill="#f79b1f" transform="rotate(-7 511.3 306.0)"/><ellipse cx="561.9" cy="313.6" rx="2.3" ry="2.1" fill="#f79b1f" transform="rotate(-31 561.9 313.6)"/><ellipse cx="576.5" cy="304.3" rx="1.7" ry="1.7" fill="#f79b1f" transform="rotate(-7 576.5 304.3)"/><ellipse cx="524.9" cy="274.7" rx="1.5" ry="1.2" fill="#f79b1f" transform="rotate(-9 524.9 274.7)"/><ellipse cx="528.7" cy="293.9" rx="2.3" ry="1.9" fill="#f79b1f" transform="rotate(19 528.7 293.9)"/><ellipse cx="556.9" cy="303.5" rx="2.2" ry="1.9" fill="#f79b1f" transform="rotate(-39 556.9 303.5)"/><ellipse cx="607.1" cy="295.6" rx="1.7" ry="1.4" fill="#f79b1f" transform="rotate(-34 607.1 295.6)"/><ellipse cx="577.3" cy="291.9" rx="2.2" ry="2.2" fill="#f79b1f" transform="rotate(-7 577.3 291.9)"/><ellipse cx="585.9" cy="310.4" rx="1.6" ry="1.5" fill="#f79b1f" transform="rotate(7 585.9 310.4)"/><ellipse cx="586.9" cy="256.0" rx="2.4" ry="2.1" fill="#f79b1f" transform="rotate(19 586.9 256.0)"/>
<ellipse cx="539.4" cy="300.8" rx="2.8" ry="2.2" fill="#c08e94" stroke="#a9767f" stroke-width="0.5" transform="rotate(7 539.4 300.8)"/><path d="M537.9,300.0 L540.7,301.8 M538.9,299.2 L541.2,300.8 M537.6,301.3 L539.7,302.3" stroke="#a06a76" stroke-width="0.45" fill="none"/><ellipse cx="549.0" cy="299.4" rx="2.4" ry="1.9" fill="#c08e94" stroke="#a9767f" stroke-width="0.5" transform="rotate(-20 549.0 299.4)"/><path d="M547.7,298.7 L550.1,300.3 M548.6,298.1 L550.5,299.4 M547.5,299.8 L549.2,300.7" stroke="#a06a76" stroke-width="0.45" fill="none"/><ellipse cx="599.6" cy="292.0" rx="2.5" ry="1.9" fill="#c08e94" stroke="#a9767f" stroke-width="0.5" transform="rotate(13 599.6 292.0)"/><path d="M598.2,291.3 L600.7,292.9 M599.1,290.6 L601.1,292.0 M598.0,292.4 L599.8,293.3" stroke="#a06a76" stroke-width="0.45" fill="none"/><ellipse cx="518.3" cy="312.7" rx="2.6" ry="2.0" fill="#c08e94" stroke="#a9767f" stroke-width="0.5" transform="rotate(17 518.3 312.7)"/><path d="M516.9,312.0 L519.5,313.7 M517.8,311.3 L520.0,312.7 M516.6,313.2 L518.5,314.2" stroke="#a06a76" stroke-width="0.45" fill="none"/><ellipse cx="546.0" cy="314.1" rx="2.5" ry="2.0" fill="#c08e94" stroke="#a9767f" stroke-width="0.5" transform="rotate(-4 546.0 314.1)"/><path d="M544.6,313.4 L547.1,315.0 M545.5,312.7 L547.6,314.1 M544.4,314.6 L546.2,315.5" stroke="#a06a76" stroke-width="0.45" fill="none"/><ellipse cx="610.2" cy="310.7" rx="2.2" ry="1.7" fill="#c08e94" stroke="#a9767f" stroke-width="0.5" transform="rotate(-11 610.2 310.7)"/><path d="M608.9,310.1 L611.2,311.5 M609.8,309.5 L611.6,310.7 M608.7,311.1 L610.4,311.9" stroke="#a06a76" stroke-width="0.45" fill="none"/><ellipse cx="567.3" cy="295.2" rx="2.6" ry="2.0" fill="#c08e94" stroke="#a9767f" stroke-width="0.5" transform="rotate(15 567.3 295.2)"/><path d="M565.9,294.5 L568.4,296.2 M566.8,293.8 L568.9,295.2 M565.6,295.7 L567.5,296.6" stroke="#a06a76" stroke-width="0.45" fill="none"/><ellipse cx="603.4" cy="303.8" rx="2.2" ry="1.7" fill="#c08e94" stroke="#a9767f" stroke-width="0.5" transform="rotate(15 603.4 303.8)"/><path d="M602.2,303.2 L604.4,304.7 M603.0,302.6 L604.8,303.8 M602.0,304.2 L603.6,305.1" stroke="#a06a76" stroke-width="0.45" fill="none"/><ellipse cx="604.0" cy="254.3" rx="2.9" ry="2.2" fill="#c08e94" stroke="#a9767f" stroke-width="0.5" transform="rotate(18 604.0 254.3)"/><path d="M602.4,253.5 L605.3,255.3 M603.5,252.7 L605.8,254.3 M602.2,254.8 L604.2,255.9" stroke="#a06a76" stroke-width="0.45" fill="none"/><ellipse cx="512.7" cy="284.9" rx="2.9" ry="2.2" fill="#c08e94" stroke="#a9767f" stroke-width="0.5" transform="rotate(-13 512.7 284.9)"/><path d="M511.1,284.1 L514.0,286.0 M512.1,283.4 L514.5,284.9 M510.8,285.4 L512.9,286.5" stroke="#a06a76" stroke-width="0.45" fill="none"/><ellipse cx="525.6" cy="286.5" rx="2.3" ry="1.8" fill="#c08e94" stroke="#a9767f" stroke-width="0.5" transform="rotate(-15 525.6 286.5)"/><path d="M524.4,285.8 L526.7,287.3 M525.2,285.2 L527.1,286.5 M524.2,286.9 L525.9,287.8" stroke="#a06a76" stroke-width="0.45" fill="none"/><ellipse cx="599.4" cy="313.9" rx="2.6" ry="2.0" fill="#c08e94" stroke="#a9767f" stroke-width="0.5" transform="rotate(-15 599.4 313.9)"/><path d="M598.0,313.2 L600.6,314.8 M599.0,312.5 L601.1,313.9 M597.8,314.4 L599.7,315.3" stroke="#a06a76" stroke-width="0.45" fill="none"/>
<path d="M525.5,280.5 Q535.0,274.8 542.8,271.8 Q550.5,268.7 557.8,266.9 Q565.0,265.2 571.5,264.0 Q578.0,262.8 586.5,261.7 Q595.0,260.6 604.2,259.9 L613.5,259.2 L613.5,287.0 Q595.0,287.2 582.0,287.3 Q569.0,287.4 562.0,286.9 Q555.0,286.4 548.0,285.5 Q541.0,284.6 535.5,283.7 Q530.0,282.8 527.8,281.6 L525.5,280.5 Z" fill="url(#lip4)" stroke="#e98d1c" stroke-width="0.5"/>
<path d="M536,279.5 Q552,273 570,272.4 T600,266 M548,283 Q566,280.5 578,281.5 T604,275" stroke="#e98d1c" stroke-width="0.5" fill="none"/>
<g transform="translate(596.3,245.0) rotate(20) scale(0.95)"><path d="M0,-4.6 C3.2,-4.6 3.6,-1 2.2,1.6 L0,5.2 L-2.2,1.6 C-3.6,-1 -3.2,-4.6 0,-4.6 Z" fill="#8f78c8" stroke="#6d58b0" stroke-width="0.5"/><path d="M0,-2.6 C1.2,-2.6 1.3,-0.6 0.8,0.6 L0,2.6 L-0.8,0.6 C-1.3,-0.6 -1.2,-2.6 0,-2.6 Z" fill="#f6a021"/></g>
</g>
<g id="seg5">
<path d="M746.3,105.4 A67.00,120.70 0 0 1 813.30,226.10 A67.00,132.90 0 0 1 746.30,359.00 Z" fill="#6d070b"/>
<path d="M746.3,114.6 A72.00,112.59 0 0 1 808.30,226.10 A72.00,124.61 0 0 1 746.30,349.50 Z" fill="url(#cellD)"/>
<path d="M746.3,114.6 A72.00,112.59 0 0 1 808.30,226.10 A72.00,124.61 0 0 1 746.30,349.50" fill="none" stroke="#5b3a70" stroke-width="1.3" opacity="0.9"/>
<path d="M746.3,134.7 A54.50,92.98 0 0 1 790.80,226.10 A54.50,107.22 0 0 1 746.30,331.50 Z" fill="#83565f"/>
<clipPath id="e2c4"><path d="M746.3,134.7 A54.50,92.98 0 0 1 790.80,226.10 A54.50,107.22 0 0 1 746.30,331.50 Z"/></clipPath>
<g clip-path="url(#e2c4)">
<ellipse cx="754.9" cy="220.3" rx="2.0" ry="1.5" fill="#c4862c"/><ellipse cx="771.5" cy="214.0" rx="1.6" ry="1.5" fill="#c4862c"/><ellipse cx="760.9" cy="214.2" rx="2.1" ry="2.1" fill="#75589a"/><ellipse cx="772.8" cy="223.8" rx="2.1" ry="1.5" fill="#c4862c"/><ellipse cx="768.0" cy="204.7" rx="1.9" ry="1.6" fill="#c4862c"/><ellipse cx="764.6" cy="221.9" rx="2.1" ry="1.6" fill="#c4862c"/>
<path d="M746.3,229.0 L771.0,228.0 L790.0,227.5 L786.0,250.0 L779.0,266.0 L771.0,277.0 L758.0,285.4 L746.3,289.8 Z" fill="#8b8a2b"/>
<path d="M786,250 L779,266 L771,277 L758,285.4 L746.3,289.8" stroke="#a8441c" stroke-width="0.7" fill="none"/>
<path d="M748,262 Q760,258 772,252" stroke="#7a7a24" stroke-width="0.5" fill="none"/>
<ellipse cx="757.7" cy="313.9" rx="2.1" ry="1.7" fill="#9c1218"/><ellipse cx="767.4" cy="307.4" rx="2.0" ry="1.5" fill="#9c1218"/><ellipse cx="760.5" cy="298.6" rx="1.2" ry="1.1" fill="#9c1218"/><ellipse cx="767.0" cy="294.4" rx="2.2" ry="1.6" fill="#9c1218"/><ellipse cx="750.1" cy="321.0" rx="1.2" ry="1.0" fill="#9c1218"/><ellipse cx="754.6" cy="316.3" rx="1.7" ry="1.5" fill="#9c1218"/><ellipse cx="760.5" cy="292.5" rx="1.8" ry="1.4" fill="#9c1218"/><ellipse cx="761.4" cy="305.6" rx="2.2" ry="2.2" fill="#9c1218"/><ellipse cx="765.2" cy="287.0" rx="1.1" ry="0.8" fill="#9c1218"/><ellipse cx="753.9" cy="320.4" rx="1.4" ry="1.1" fill="#9c1218"/><ellipse cx="750.1" cy="315.0" rx="1.6" ry="1.3" fill="#9c1218"/><ellipse cx="757.6" cy="303.5" rx="1.9" ry="1.7" fill="#9c1218"/><ellipse cx="749.0" cy="294.8" rx="1.2" ry="1.1" fill="#9c1218"/><ellipse cx="766.3" cy="313.2" rx="1.4" ry="1.2" fill="#9c1218"/><ellipse cx="766.1" cy="300.3" rx="1.9" ry="1.7" fill="#9c1218"/><ellipse cx="757.7" cy="309.7" rx="1.3" ry="1.3" fill="#9c1218"/><ellipse cx="754.2" cy="293.7" rx="1.6" ry="1.5" fill="#9c1218"/><ellipse cx="748.5" cy="310.9" rx="1.2" ry="0.9" fill="#9c1218"/><ellipse cx="755.8" cy="299.9" rx="2.2" ry="2.1" fill="#9c1218"/><ellipse cx="753.0" cy="311.9" rx="1.8" ry="1.6" fill="#9c1218"/><ellipse cx="750.4" cy="298.8" rx="1.8" ry="1.3" fill="#9c1218"/><ellipse cx="749.1" cy="304.1" rx="1.5" ry="1.1" fill="#9c1218"/><ellipse cx="756.5" cy="289.2" rx="2.1" ry="2.0" fill="#9c1218"/><ellipse cx="753.6" cy="305.5" rx="2.1" ry="1.5" fill="#9c1218"/><ellipse cx="761.2" cy="316.2" rx="2.2" ry="2.0" fill="#9c1218"/><ellipse cx="763.3" cy="310.3" rx="1.9" ry="1.7" fill="#9c1218"/><ellipse cx="766.8" cy="290.5" rx="1.6" ry="1.3" fill="#9c1218"/><ellipse cx="760.4" cy="288.4" rx="1.4" ry="1.2" fill="#9c1218"/><ellipse cx="751.0" cy="325.0" rx="1.2" ry="0.9" fill="#9c1218"/><ellipse cx="763.3" cy="295.2" rx="1.9" ry="1.8" fill="#9c1218"/><ellipse cx="767.5" cy="283.6" rx="1.4" ry="1.0" fill="#9c1218"/><ellipse cx="765.0" cy="304.3" rx="2.3" ry="2.0" fill="#9c1218"/><ellipse cx="758.3" cy="318.9" rx="1.2" ry="1.0" fill="#9c1218"/><ellipse cx="757.6" cy="295.8" rx="1.1" ry="1.0" fill="#9c1218"/><ellipse cx="751.2" cy="291.3" rx="1.6" ry="1.4" fill="#9c1218"/>
</g>
<path d="M746.3,134.7 A54.50,92.98 0 0 1 790.80,226.10 A54.50,107.22 0 0 1 746.30,331.50" fill="none" stroke="#5a4a92" stroke-width="1.1"/>
<path d="M746.3,146.2 A33.50,45.89 0 0 1 769.80,190.00 A33.50,31.85 0 0 1 746.30,220.40" fill="none" stroke="#aa6b60" stroke-width="7" stroke-linejoin="round"/>
<path d="M647.4,146.2 H746.3 A33.50,45.89 0 0 1 769.80,190.00 A33.50,31.85 0 0 1 746.30,220.40 L746.3,220.4 Q730.0,222.0 719.0,223.2 Q708.0,224.4 696.0,226.0 Q684.0,227.6 672.0,229.7 Q660.0,231.8 650.2,234.6 L640.4,237.4 L647.4,237.4 L655.9,234.4 L659.9,231.3 L661.9,228.3 L663.2,225.2 L663.7,222.2 L665.8,219.2 L666.3,216.1 L666.7,213.1 L668.4,210.0 L666.9,207.0 L668.9,204.0 L667.2,200.9 L668.8,197.9 L668.4,194.8 L667.7,191.8 L668.7,188.8 L667.9,185.7 L667.9,182.7 L668.3,179.6 L666.0,176.6 L664.8,173.6 L664.8,170.5 L664.9,167.5 L662.7,164.4 L661.5,161.4 L662.1,158.4 L659.8,155.3 L657.2,152.3 L655.6,149.2 L647.4,146.2 Z" fill="url(#lg4)"/>
<path d="M647.4,146.2 H746.3 A33.50,45.89 0 0 1 769.80,190.00 A33.50,31.85 0 0 1 746.30,220.40 L746.3,220.4 Q730.0,222.0 719.0,223.2 Q708.0,224.4 696.0,226.0 Q684.0,227.6 672.0,229.7 Q660.0,231.8 650.2,234.6 L640.4,237.4 L647.4,237.4 L655.9,234.4 L659.9,231.3 L661.9,228.3 L663.2,225.2 L663.7,222.2 L665.8,219.2 L666.3,216.1 L666.7,213.1 L668.4,210.0 L666.9,207.0 L668.9,204.0 L667.2,200.9 L668.8,197.9 L668.4,194.8 L667.7,191.8 L668.7,188.8 L667.9,185.7 L667.9,182.7 L668.3,179.6 L666.0,176.6 L664.8,173.6 L664.8,170.5 L664.9,167.5 L662.7,164.4 L661.5,161.4 L662.1,158.4 L659.8,155.3 L657.2,152.3 L655.6,149.2 L647.4,146.2 Z" fill="url(#net)"/>
<clipPath id="lc4"><path d="M647.4,146.2 H746.3 A33.50,45.89 0 0 1 769.80,190.00 A33.50,31.85 0 0 1 746.30,220.40 L746.3,220.4 Q730.0,222.0 719.0,223.2 Q708.0,224.4 696.0,226.0 Q684.0,227.6 672.0,229.7 Q660.0,231.8 650.2,234.6 L640.4,237.4 L647.4,237.4 L655.9,234.4 L659.9,231.3 L661.9,228.3 L663.2,225.2 L663.7,222.2 L665.8,219.2 L666.3,216.1 L666.7,213.1 L668.4,210.0 L666.9,207.0 L668.9,204.0 L667.2,200.9 L668.8,197.9 L668.4,194.8 L667.7,191.8 L668.7,188.8 L667.9,185.7 L667.9,182.7 L668.3,179.6 L666.0,176.6 L664.8,173.6 L664.8,170.5 L664.9,167.5 L662.7,164.4 L661.5,161.4 L662.1,158.4 L659.8,155.3 L657.2,152.3 L655.6,149.2 L647.4,146.2 Z"/></clipPath>
<g clip-path="url(#lc4)"><path d="M640.4,237.4 Q660.0,231.8 672.0,229.7 Q684.0,227.6 696.0,226.0 Q708.0,224.4 719.0,223.2 Q730.0,222.0 738.1,221.2 Q746.3,220.4 750.6,219.0 Q755.0,217.6 759.0,213.8 Q763.0,210.0 765.5,205.0 Q768.0,200.0 768.8,195.0 L769.6,190.0" stroke="#e2231b" stroke-width="30" fill="none" opacity="0.85" filter="url(#blur5)"/><path d="M640.4,237.4 Q660.0,231.8 672.0,229.7 Q684.0,227.6 696.0,226.0 Q708.0,224.4 719.0,223.2 Q730.0,222.0 738.1,221.2 Q746.3,220.4 750.6,219.0 Q755.0,217.6 759.0,213.8 Q763.0,210.0 765.5,205.0 Q768.0,200.0 768.8,195.0 L769.6,190.0" stroke="#a30f0f" stroke-width="7" fill="none" opacity="0.6" filter="url(#blur3)"/></g>
<rect x="640.4" y="105.4" width="105.9" height="40.8" fill="#ed2d23"/>
<path d="M640.4,109.0 Q656.2,107.9 662.4,108.4 Q668.5,108.8 676.0,108.7 Q683.5,108.6 690.1,108.6 Q696.7,108.6 703.9,108.5 Q711.1,108.5 717.5,108.4 Q723.8,108.4 730.6,108.5 Q737.3,108.7 741.8,108.8 L746.3,109.0 M640.4,111.6 Q658.4,111.8 667.8,111.8 Q677.1,111.8 686.5,111.3 Q695.8,110.9 704.3,111.5 Q712.7,112.0 721.5,112.0 Q730.3,112.0 738.0,111.7 Q745.7,111.4 746.0,111.5 L746.3,111.5" stroke="#d82019" stroke-width="0.6" fill="none" opacity="0.8"/>
<rect x="640.4" y="114.6" width="105.9" height="20.3" fill="url(#cellF)"/>
<path d="M640.4,114.3 Q656.2,114.3 664.7,114.6 Q673.3,114.8 680.6,114.9 Q688.0,114.9 696.0,114.8 Q704.0,114.8 711.6,114.5 Q719.1,114.3 726.7,114.4 Q734.3,114.5 740.3,114.6 L746.3,114.8" stroke="#86567e" stroke-width="1.7" fill="none" opacity="0.9"/>
<rect x="640.4" y="134.7" width="105.9" height="11.5" fill="#f3a4a0"/>
<path d="M640.4,134.6 Q656.5,134.4 666.0,134.7 Q675.6,134.9 684.6,134.8 Q693.7,134.8 703.3,134.6 Q712.9,134.4 721.7,134.5 Q730.5,134.7 738.4,134.7 L746.3,134.8" stroke="#7d4a78" stroke-width="1.2" fill="none" opacity="0.9"/>
<path d="M640.4,142.5 Q646.4,142.2 650.7,142.2 Q654.9,142.3 659.0,142.1 Q663.0,141.8 666.4,142.1 Q669.7,142.3 672.9,142.3 Q676.2,142.2 680.4,142.2 Q684.7,142.2 688.2,142.2 Q691.8,142.2 696.1,142.5 Q700.4,142.8 703.3,142.5 Q706.2,142.2 708.8,142.3 Q711.5,142.4 714.3,142.6 Q717.1,142.7 721.2,142.5 Q725.3,142.2 728.1,142.1 Q730.8,141.9 734.2,141.8 Q737.7,141.8 740.5,141.8 Q743.4,141.9 744.8,142.0 L746.3,142.2 L746.3,146.2 L640.4,146.2 Z" fill="#c07866"/>
<rect x="640.4" y="145.3" width="105.9" height="0.9" fill="#9a5a4e" opacity="0.7"/>
<path d="M640.4,337.5 L746.3,348.5 V359.0 L640.4,348.0 Z" fill="#ed2d23"/>
<path d="M640.4,342.0 Q656.8,343.0 665.3,343.9 Q673.8,344.8 681.6,345.6 Q689.4,346.3 697.5,347.2 Q705.5,348.1 713.4,349.3 Q721.3,350.6 729.3,351.2 Q737.4,351.9 741.8,352.7 L746.3,353.6 M640.4,344.5 Q658.7,347.0 668.5,348.0 Q678.3,349.1 687.1,350.1 Q695.8,351.1 704.6,351.6 Q713.5,352.1 721.7,353.1 Q729.9,354.1 738.1,354.9 L746.3,355.6" stroke="#d82019" stroke-width="0.6" fill="none" opacity="0.8"/>
<path d="M640.4,321.8 Q648.6,323.7 651.9,323.1 Q655.3,322.6 658.3,322.8 Q661.4,322.9 664.4,323.2 Q667.4,323.5 671.5,325.0 Q675.5,326.4 679.9,326.0 Q684.3,325.6 688.1,326.4 Q691.9,327.1 695.5,326.6 Q699.2,326.2 703.9,327.3 Q708.5,328.4 711.8,328.0 Q715.0,327.6 718.2,329.0 Q721.4,330.5 724.6,330.3 Q727.8,330.2 732.7,329.8 Q737.7,329.5 741.5,330.4 Q745.2,331.3 745.8,331.0 L746.3,330.7 L746.3,349.5 L640.4,338.5 Z" fill="url(#cellF)"/>
<path d="M640.4,338.8 Q654.9,340.1 662.9,341.0 Q670.9,342.0 678.6,342.6 Q686.4,343.2 694.6,344.1 Q702.7,344.9 711.5,346.0 Q720.4,347.1 728.8,347.7 Q737.3,348.2 741.8,348.9 L746.3,349.5" stroke="#7d4f7c" stroke-width="1.7" fill="none"/>
<path d="M640.4,237.4 Q660.0,231.8 672.0,229.7 Q684.0,227.6 696.0,226.0 Q708.0,224.4 719.0,223.2 Q730.0,222.0 738.1,221.2 L746.3,220.4 L746.3,330.7 Q745.2,331.3 741.5,330.4 Q737.7,329.5 732.7,329.8 Q727.8,330.2 724.6,330.3 Q721.4,330.5 718.2,329.0 Q715.0,327.6 711.8,328.0 Q708.5,328.4 703.9,327.3 Q699.2,326.2 695.5,326.6 Q691.9,327.1 688.1,326.4 Q684.3,325.6 679.9,326.0 Q675.5,326.4 671.5,325.0 Q667.4,323.5 664.4,323.2 Q661.4,322.9 658.3,322.8 Q655.3,322.6 651.9,323.1 Q648.6,323.7 644.5,322.7 L640.4,321.8 Z" fill="#f3a4a0"/>
<path d="M640.4,321.8 Q648.6,323.7 651.9,323.1 Q655.3,322.6 658.3,322.8 Q661.4,322.9 664.4,323.2 Q667.4,323.5 671.5,325.0 Q675.5,326.4 679.9,326.0 Q684.3,325.6 688.1,326.4 Q691.9,327.1 695.5,326.6 Q699.2,326.2 703.9,327.3 Q708.5,328.4 711.8,328.0 Q715.0,327.6 718.2,329.0 Q721.4,330.5 724.6,330.3 Q727.8,330.2 732.7,329.8 Q737.7,329.5 741.5,330.4 Q745.2,331.3 745.8,331.0 L746.3,330.7" stroke="#6f4a86" stroke-width="1.2" fill="none"/>
<path d="M640.4,238.6 Q660.0,233.0 672.0,230.9 Q684.0,228.8 696.0,227.2 Q708.0,225.6 719.0,224.4 Q730.0,223.2 738.1,222.4 L746.3,221.6" stroke="#ee8c78" stroke-width="2.8" fill="none"/>
<path d="M640.4,237.7 Q660.0,232.1 672.0,230.0 Q684.0,227.9 696.0,226.3 Q708.0,224.7 719.0,223.5 Q730.0,222.3 738.1,221.5 L746.3,220.7" stroke="#c9796b" stroke-width="0.7" fill="none"/>
<circle cx="659.2" cy="243.9" r="1.6" fill="#7d62a8"/><circle cx="684.1" cy="235.0" r="1.5" fill="#7d62a8"/><circle cx="692.4" cy="235.3" r="1.4" fill="#7d62a8"/><circle cx="671.9" cy="236.5" r="1.3" fill="#7d62a8"/><circle cx="701.9" cy="232.0" r="1.5" fill="#7d62a8"/>
<ellipse cx="645.7" cy="250.4" rx="1.6" ry="1.3" fill="#f79b1f" transform="rotate(-35 645.7 250.4)"/><ellipse cx="647.1" cy="241.6" rx="1.4" ry="1.3" fill="#f79b1f" transform="rotate(29 647.1 241.6)"/><ellipse cx="721.6" cy="228.4" rx="1.7" ry="1.6" fill="#f79b1f" transform="rotate(-26 721.6 228.4)"/><ellipse cx="741.0" cy="226.8" rx="1.4" ry="1.3" fill="#f79b1f" transform="rotate(23 741.0 226.8)"/>
<ellipse cx="696.4" cy="292.2" rx="1.6" ry="1.3" fill="#f79b1f" transform="rotate(5 696.4 292.2)"/><ellipse cx="687.7" cy="296.0" rx="1.8" ry="1.7" fill="#f79b1f" transform="rotate(-20 687.7 296.0)"/><ellipse cx="679.0" cy="289.1" rx="2.1" ry="2.1" fill="#f79b1f" transform="rotate(-34 679.0 289.1)"/><ellipse cx="741.3" cy="302.1" rx="2.1" ry="1.9" fill="#f79b1f" transform="rotate(3 741.3 302.1)"/><ellipse cx="707.9" cy="294.4" rx="1.6" ry="1.3" fill="#f79b1f" transform="rotate(5 707.9 294.4)"/><ellipse cx="654.0" cy="290.8" rx="1.4" ry="1.2" fill="#f79b1f" transform="rotate(-4 654.0 290.8)"/><ellipse cx="676.1" cy="302.4" rx="1.7" ry="1.5" fill="#f79b1f" transform="rotate(-40 676.1 302.4)"/><ellipse cx="668.7" cy="291.2" rx="2.1" ry="1.8" fill="#f79b1f" transform="rotate(23 668.7 291.2)"/><ellipse cx="726.6" cy="291.2" rx="2.0" ry="1.5" fill="#f79b1f" transform="rotate(29 726.6 291.2)"/>
<ellipse cx="717.7" cy="305.6" rx="2.5" ry="1.9" fill="#c08e94" stroke="#a9767f" stroke-width="0.5" transform="rotate(-2 717.7 305.6)"/><path d="M716.4,304.9 L718.8,306.5 M717.3,304.2 L719.3,305.6 M716.1,306.0 L717.9,306.9" stroke="#a06a76" stroke-width="0.45" fill="none"/><ellipse cx="644.2" cy="297.8" rx="2.7" ry="2.1" fill="#c08e94" stroke="#a9767f" stroke-width="0.5" transform="rotate(1 644.2 297.8)"/><path d="M642.7,297.1 L645.4,298.8 M643.7,296.4 L645.9,297.8 M642.4,298.3 L644.4,299.3" stroke="#a06a76" stroke-width="0.45" fill="none"/><ellipse cx="731.3" cy="299.5" rx="2.9" ry="2.2" fill="#c08e94" stroke="#a9767f" stroke-width="0.5" transform="rotate(9 731.3 299.5)"/><path d="M729.7,298.7 L732.6,300.6 M730.7,297.9 L733.1,299.5 M729.4,300.0 L731.5,301.1" stroke="#a06a76" stroke-width="0.45" fill="none"/><ellipse cx="703.5" cy="305.1" rx="2.5" ry="2.0" fill="#c08e94" stroke="#a9767f" stroke-width="0.5" transform="rotate(-3 703.5 305.1)"/><path d="M702.1,304.5 L704.7,306.1 M703.1,303.8 L705.1,305.1 M701.9,305.6 L703.8,306.5" stroke="#a06a76" stroke-width="0.45" fill="none"/><ellipse cx="738.9" cy="292.2" rx="2.6" ry="2.0" fill="#c08e94" stroke="#a9767f" stroke-width="0.5" transform="rotate(-21 738.9 292.2)"/><path d="M737.5,291.5 L740.1,293.1 M738.4,290.8 L740.6,292.2 M737.2,292.7 L739.1,293.6" stroke="#a06a76" stroke-width="0.45" fill="none"/><ellipse cx="659.4" cy="300.0" rx="3.0" ry="2.3" fill="#c08e94" stroke="#a9767f" stroke-width="0.5" transform="rotate(22 659.4 300.0)"/><path d="M657.8,299.1 L660.8,301.0 M658.9,298.3 L661.3,300.0 M657.5,300.5 L659.7,301.6" stroke="#a06a76" stroke-width="0.45" fill="none"/><ellipse cx="717.2" cy="291.7" rx="3.1" ry="2.4" fill="#c08e94" stroke="#a9767f" stroke-width="0.5" transform="rotate(-13 717.2 291.7)"/><path d="M715.6,290.9 L718.6,292.8 M716.7,290.1 L719.2,291.7 M715.3,292.3 L717.5,293.4" stroke="#a06a76" stroke-width="0.45" fill="none"/><ellipse cx="693.2" cy="305.4" rx="2.4" ry="1.9" fill="#c08e94" stroke="#a9767f" stroke-width="0.5" transform="rotate(28 693.2 305.4)"/><path d="M691.8,304.7 L694.3,306.3 M692.7,304.1 L694.7,305.4 M691.6,305.9 L693.4,306.7" stroke="#a06a76" stroke-width="0.45" fill="none"/>
<ellipse cx="690.2" cy="291.0" rx="1.4" ry="1.1" fill="#e3212a" transform="rotate(26 690.2 291.0)"/><ellipse cx="702.6" cy="288.0" rx="1.1" ry="1.0" fill="#e3212a" transform="rotate(8 702.6 288.0)"/><ellipse cx="733.3" cy="293.9" rx="0.8" ry="0.6" fill="#e3212a" transform="rotate(-47 733.3 293.9)"/><ellipse cx="723.8" cy="297.9" rx="1.2" ry="0.9" fill="#e3212a" transform="rotate(44 723.8 297.9)"/><ellipse cx="712.8" cy="299.1" rx="1.1" ry="0.7" fill="#e3212a" transform="rotate(48 712.8 299.1)"/><ellipse cx="647.7" cy="290.7" rx="0.9" ry="0.6" fill="#e3212a" transform="rotate(-48 647.7 290.7)"/><ellipse cx="681.8" cy="302.3" rx="0.9" ry="0.7" fill="#e3212a" transform="rotate(-43 681.8 302.3)"/><ellipse cx="668.6" cy="300.0" rx="0.8" ry="0.6" fill="#e3212a" transform="rotate(48 668.6 300.0)"/><ellipse cx="731.3" cy="307.7" rx="0.9" ry="0.9" fill="#e3212a" transform="rotate(29 731.3 307.7)"/><ellipse cx="699.5" cy="298.0" rx="1.3" ry="1.1" fill="#e3212a" transform="rotate(-14 699.5 298.0)"/><ellipse cx="698.7" cy="306.6" rx="1.0" ry="0.8" fill="#e3212a" transform="rotate(3 698.7 306.6)"/><ellipse cx="738.1" cy="307.2" rx="1.3" ry="1.0" fill="#e3212a" transform="rotate(13 738.1 307.2)"/><ellipse cx="712.4" cy="304.3" rx="1.4" ry="1.0" fill="#e3212a" transform="rotate(2 712.4 304.3)"/><ellipse cx="652.4" cy="297.5" rx="1.0" ry="0.8" fill="#e3212a" transform="rotate(-37 652.4 297.5)"/>
<ellipse cx="693.6" cy="321.0" rx="2.7" ry="2.3" fill="#e3212a" transform="rotate(-12 693.6 321.0)"/><ellipse cx="703.6" cy="319.5" rx="2.5" ry="2.2" fill="#e3212a" transform="rotate(-46 703.6 319.5)"/><ellipse cx="729.1" cy="316.8" rx="2.6" ry="2.2" fill="#e3212a" transform="rotate(-17 729.1 316.8)"/><ellipse cx="697.9" cy="322.6" rx="1.4" ry="0.9" fill="#e3212a" transform="rotate(-29 697.9 322.6)"/><ellipse cx="683.8" cy="315.8" rx="2.5" ry="2.0" fill="#e3212a" transform="rotate(-20 683.8 315.8)"/><ellipse cx="714.4" cy="320.0" rx="1.4" ry="1.0" fill="#e3212a" transform="rotate(0 714.4 320.0)"/><ellipse cx="652.2" cy="313.2" rx="1.4" ry="1.0" fill="#e3212a" transform="rotate(24 652.2 313.2)"/><ellipse cx="734.8" cy="323.5" rx="2.5" ry="1.9" fill="#e3212a" transform="rotate(-28 734.8 323.5)"/><ellipse cx="690.3" cy="316.2" rx="1.3" ry="1.1" fill="#e3212a" transform="rotate(-25 690.3 316.2)"/><ellipse cx="741.5" cy="320.7" rx="2.5" ry="2.2" fill="#e3212a" transform="rotate(-22 741.5 320.7)"/><ellipse cx="672.2" cy="316.9" rx="1.4" ry="1.2" fill="#e3212a" transform="rotate(39 672.2 316.9)"/><ellipse cx="698.1" cy="316.3" rx="1.5" ry="1.0" fill="#e3212a" transform="rotate(-11 698.1 316.3)"/><ellipse cx="647.8" cy="318.0" rx="1.5" ry="1.0" fill="#e3212a" transform="rotate(4 647.8 318.0)"/><ellipse cx="662.3" cy="318.8" rx="2.5" ry="2.1" fill="#e3212a" transform="rotate(22 662.3 318.8)"/><ellipse cx="715.9" cy="314.9" rx="1.7" ry="1.3" fill="#e3212a" transform="rotate(-32 715.9 314.9)"/><ellipse cx="647.4" cy="313.7" rx="2.7" ry="2.4" fill="#e3212a" transform="rotate(6 647.4 313.7)"/><ellipse cx="664.8" cy="313.5" rx="2.4" ry="1.8" fill="#e3212a" transform="rotate(-11 664.8 313.5)"/><ellipse cx="720.1" cy="317.7" rx="1.4" ry="1.3" fill="#e3212a" transform="rotate(-8 720.1 317.7)"/><ellipse cx="707.7" cy="322.1" rx="2.4" ry="2.3" fill="#e3212a" transform="rotate(-46 707.7 322.1)"/><ellipse cx="680.0" cy="317.7" rx="1.7" ry="1.6" fill="#e3212a" transform="rotate(-49 680.0 317.7)"/><ellipse cx="656.3" cy="318.3" rx="1.4" ry="1.3" fill="#e3212a" transform="rotate(-31 656.3 318.3)"/><ellipse cx="687.4" cy="312.6" rx="1.4" ry="1.3" fill="#e3212a" transform="rotate(-0 687.4 312.6)"/><ellipse cx="694.2" cy="313.9" rx="2.3" ry="1.6" fill="#e3212a" transform="rotate(-46 694.2 313.9)"/><ellipse cx="733.4" cy="318.5" rx="2.2" ry="1.8" fill="#e3212a" transform="rotate(38 733.4 318.5)"/><ellipse cx="726.3" cy="321.6" rx="1.4" ry="1.0" fill="#e3212a" transform="rotate(7 726.3 321.6)"/><ellipse cx="676.6" cy="313.7" rx="1.5" ry="1.2" fill="#e3212a" transform="rotate(9 676.6 313.7)"/><ellipse cx="728.2" cy="326.2" rx="1.3" ry="0.9" fill="#e3212a" transform="rotate(36 728.2 326.2)"/><ellipse cx="643.5" cy="309.6" rx="2.0" ry="1.4" fill="#e3212a" transform="rotate(-39 643.5 309.6)"/><ellipse cx="689.3" cy="320.7" rx="2.2" ry="1.9" fill="#e3212a" transform="rotate(21 689.3 320.7)"/><ellipse cx="658.8" cy="311.2" rx="1.8" ry="1.3" fill="#e3212a" transform="rotate(40 658.8 311.2)"/><ellipse cx="721.3" cy="323.9" rx="2.3" ry="1.7" fill="#e3212a" transform="rotate(-49 721.3 323.9)"/><ellipse cx="740.9" cy="326.7" rx="1.8" ry="1.4" fill="#e3212a" transform="rotate(-47 740.9 326.7)"/><ellipse cx="702.2" cy="323.7" rx="1.4" ry="1.0" fill="#e3212a" transform="rotate(36 702.2 323.7)"/><ellipse cx="710.4" cy="318.8" rx="1.9" ry="1.5" fill="#e3212a" transform="rotate(26 710.4 318.8)"/><ellipse cx="649.1" cy="309.9" rx="1.9" ry="1.4" fill="#e3212a" transform="rotate(-19 649.1 309.9)"/><ellipse cx="667.0" cy="318.4" rx="2.1" ry="1.7" fill="#e3212a" transform="rotate(20 667.0 318.4)"/><ellipse cx="672.1" cy="312.9" rx="2.2" ry="2.0" fill="#e3212a" transform="rotate(26 672.1 312.9)"/><ellipse cx="713.6" cy="324.9" rx="1.3" ry="1.1" fill="#e3212a" transform="rotate(-18 713.6 324.9)"/><ellipse cx="652.0" cy="319.0" rx="1.3" ry="1.0" fill="#e3212a" transform="rotate(1 652.0 319.0)"/><ellipse cx="675.6" cy="321.1" rx="1.7" ry="1.5" fill="#e3212a" transform="rotate(-47 675.6 321.1)"/><ellipse cx="706.3" cy="314.6" rx="1.7" ry="1.2" fill="#e3212a" transform="rotate(-48 706.3 314.6)"/><ellipse cx="643.3" cy="317.0" rx="1.3" ry="0.9" fill="#e3212a" transform="rotate(-16 643.3 317.0)"/><ellipse cx="724.7" cy="317.5" rx="2.4" ry="1.8" fill="#e3212a" transform="rotate(-12 724.7 317.5)"/><ellipse cx="741.3" cy="316.4" rx="1.5" ry="1.0" fill="#e3212a" transform="rotate(44 741.3 316.4)"/><ellipse cx="684.7" cy="320.8" rx="2.8" ry="2.6" fill="#e3212a" transform="rotate(11 684.7 320.8)"/><ellipse cx="659.4" cy="315.2" rx="1.9" ry="1.4" fill="#e3212a" transform="rotate(-6 659.4 315.2)"/><ellipse cx="730.7" cy="322.4" rx="2.2" ry="2.0" fill="#e3212a" transform="rotate(25 730.7 322.4)"/><ellipse cx="670.8" cy="320.8" rx="1.7" ry="1.3" fill="#e3212a" transform="rotate(38 670.8 320.8)"/><ellipse cx="680.4" cy="322.1" rx="1.5" ry="1.1" fill="#e3212a" transform="rotate(-30 680.4 322.1)"/><ellipse cx="737.0" cy="316.3" rx="1.3" ry="1.1" fill="#e3212a" transform="rotate(-48 737.0 316.3)"/><ellipse cx="682.2" cy="312.0" rx="1.5" ry="1.3" fill="#e3212a" transform="rotate(-45 682.2 312.0)"/><ellipse cx="701.9" cy="314.6" rx="1.7" ry="1.4" fill="#e3212a" transform="rotate(-38 701.9 314.6)"/>
<path d="M640.4,254.5 Q655.0,251.0 663.5,247.7 Q672.0,244.4 680.5,241.5 Q689.0,238.6 699.5,236.0 Q710.0,233.4 720.0,232.0 Q730.0,230.6 738.1,229.8 L746.3,229.0 L746.3,289.8 Q725.0,287.2 715.0,286.4 Q705.0,285.6 697.0,285.1 Q689.0,284.6 679.5,285.1 Q670.0,285.6 662.5,286.4 Q655.0,287.2 647.7,287.4 L640.4,287.6 Z" fill="url(#lip5)" stroke="#e98d1c" stroke-width="0.5"/>
<path d="M646,262 Q658,266 668,259 T700,246 T742,240 M672,268 Q690,262 706,265 T736,266" stroke="#e98d1c" stroke-width="0.5" fill="none"/>
<g transform="translate(671.6,228.0) rotate(-12) scale(0.9)"><path d="M0,-4.6 C3.2,-4.6 3.6,-1 2.2,1.6 L0,5.2 L-2.2,1.6 C-3.6,-1 -3.2,-4.6 0,-4.6 Z" fill="#8f78c8" stroke="#6d58b0" stroke-width="0.5"/><path d="M0,-2.6 C1.2,-2.6 1.3,-0.6 0.8,0.6 L0,2.6 L-0.8,0.6 C-1.3,-0.6 -1.2,-2.6 0,-2.6 Z" fill="#f6a021"/></g>
<g transform="translate(731.8,218.4) rotate(10) scale(0.7)"><path d="M0,-4.6 C3.2,-4.6 3.6,-1 2.2,1.6 L0,5.2 L-2.2,1.6 C-3.6,-1 -3.2,-4.6 0,-4.6 Z" fill="#8f78c8" stroke="#6d58b0" stroke-width="0.5"/><path d="M0,-2.6 C1.2,-2.6 1.3,-0.6 0.8,0.6 L0,2.6 L-0.8,0.6 C-1.3,-0.6 -1.2,-2.6 0,-2.6 Z" fill="#f6a021"/></g>
</g>
<g id="seg6">
<path d="M877.2,105.3 A65.00,128.70 0 0 1 942.20,234.00 A65.00,128.20 0 0 1 877.20,362.20 Z" fill="#6d070b"/>
<path d="M877.2,114.9 A70.00,120.33 0 0 1 937.20,234.00 A70.00,120.84 0 0 1 877.20,353.60 Z" fill="url(#cellD6)"/>
<path d="M877.2,114.9 A70.00,120.33 0 0 1 937.20,234.00 A70.00,120.84 0 0 1 877.20,353.60" fill="none" stroke="#5b3a70" stroke-width="1.3" opacity="0.9"/>
<path d="M877.2,134.6 A54.50,101.12 0 0 1 921.70,234.00 A54.50,103.76 0 0 1 877.20,336.00 Z" fill="#83565f"/>
<clipPath id="e2c5"><path d="M877.2,134.6 A54.50,101.12 0 0 1 921.70,234.00 A54.50,103.76 0 0 1 877.20,336.00 Z"/></clipPath>
<g clip-path="url(#e2c5)">
<path d="M877.2,220.8 Q890.0,221.6 895.0,223.1 Q900.0,224.6 903.0,228.1 Q906.0,231.5 907.2,239.9 Q908.4,248.4 904.7,259.2 Q901.0,270.0 895.0,278.5 Q889.0,287.0 883.1,292.9 L877.2,298.7 Z" fill="#8e6a27"/>
<path d="M877.2,220.8 Q890.0,221.6 895.0,223.1 Q900.0,224.6 903.0,228.1 Q906.0,231.5 907.2,239.9 Q908.4,248.4 904.7,259.2 Q901.0,270.0 895.0,278.5 Q889.0,287.0 883.1,292.9 L877.2,298.7" stroke="#a2482a" stroke-width="0.6" fill="none"/>
<path d="M879,250 Q890,246 900,249" stroke="#7c5a20" stroke-width="0.5" fill="none"/>
<ellipse cx="891.4" cy="305.7" rx="2.1" ry="1.6" fill="#a1141b"/><ellipse cx="882.7" cy="303.9" rx="2.3" ry="1.9" fill="#a1141b"/><ellipse cx="891.3" cy="315.2" rx="1.5" ry="1.4" fill="#a1141b"/><ellipse cx="890.6" cy="301.5" rx="2.2" ry="1.7" fill="#a1141b"/><ellipse cx="897.7" cy="305.6" rx="1.4" ry="1.3" fill="#a1141b"/><ellipse cx="901.0" cy="293.1" rx="2.1" ry="1.5" fill="#a1141b"/><ellipse cx="883.4" cy="312.1" rx="2.1" ry="1.7" fill="#a1141b"/><ellipse cx="899.7" cy="288.4" rx="1.1" ry="1.0" fill="#a1141b"/><ellipse cx="899.0" cy="283.3" rx="2.1" ry="1.7" fill="#a1141b"/><ellipse cx="887.6" cy="296.8" rx="1.8" ry="1.3" fill="#a1141b"/><ellipse cx="904.0" cy="288.8" rx="1.7" ry="1.3" fill="#a1141b"/><ellipse cx="888.4" cy="309.0" rx="1.5" ry="1.4" fill="#a1141b"/><ellipse cx="883.4" cy="299.8" rx="2.2" ry="2.0" fill="#a1141b"/><ellipse cx="893.9" cy="312.1" rx="1.3" ry="1.0" fill="#a1141b"/><ellipse cx="883.1" cy="322.0" rx="1.7" ry="1.2" fill="#a1141b"/><ellipse cx="897.3" cy="298.8" rx="1.9" ry="1.9" fill="#a1141b"/><ellipse cx="891.8" cy="292.1" rx="1.1" ry="1.0" fill="#a1141b"/><ellipse cx="887.2" cy="319.1" rx="1.3" ry="1.0" fill="#a1141b"/><ellipse cx="880.1" cy="307.2" rx="1.3" ry="1.0" fill="#a1141b"/><ellipse cx="892.8" cy="297.3" rx="1.7" ry="1.7" fill="#a1141b"/><ellipse cx="886.4" cy="305.5" rx="2.0" ry="1.5" fill="#a1141b"/><ellipse cx="895.8" cy="289.8" rx="2.0" ry="1.9" fill="#a1141b"/><ellipse cx="904.2" cy="279.7" rx="1.7" ry="1.6" fill="#a1141b"/><ellipse cx="900.2" cy="302.2" rx="1.2" ry="0.9" fill="#a1141b"/><ellipse cx="879.7" cy="328.0" rx="1.3" ry="1.0" fill="#a1141b"/><ellipse cx="882.6" cy="317.8" rx="1.7" ry="1.3" fill="#a1141b"/><ellipse cx="904.3" cy="295.7" rx="1.4" ry="1.0" fill="#a1141b"/><ellipse cx="900.7" cy="277.4" rx="1.3" ry="1.0" fill="#a1141b"/><ellipse cx="908.1" cy="285.1" rx="2.3" ry="2.3" fill="#a1141b"/><ellipse cx="887.2" cy="314.3" rx="2.0" ry="2.0" fill="#a1141b"/><ellipse cx="896.5" cy="294.7" rx="1.7" ry="1.7" fill="#a1141b"/><ellipse cx="897.1" cy="309.5" rx="1.2" ry="1.1" fill="#a1141b"/><ellipse cx="895.4" cy="302.2" rx="1.2" ry="1.0" fill="#a1141b"/><ellipse cx="903.5" cy="284.1" rx="1.6" ry="1.2" fill="#a1141b"/>
<ellipse cx="906.4" cy="196.5" rx="1.6" ry="1.2" fill="#a27f88"/><ellipse cx="914.0" cy="209.0" rx="2.4" ry="1.7" fill="#9a7480"/><ellipse cx="914.3" cy="218.5" rx="1.9" ry="1.8" fill="#9a7480"/><ellipse cx="915.4" cy="247.9" rx="2.1" ry="2.1" fill="#9a7480"/><ellipse cx="911.6" cy="260.7" rx="2.4" ry="1.8" fill="#a27f88"/><ellipse cx="914.2" cy="231.7" rx="1.8" ry="1.8" fill="#9a7480"/><ellipse cx="904.2" cy="211.7" rx="1.8" ry="1.7" fill="#a27f88"/><ellipse cx="908.5" cy="269.1" rx="2.0" ry="1.7" fill="#9a7480"/>
<g fill="#d6a13a"><circle cx="903" cy="221" r="0.7"/><circle cx="905.4" cy="220" r="0.7"/><circle cx="907.6" cy="221.4" r="0.7"/><circle cx="904.2" cy="223.4" r="0.7"/><circle cx="906.6" cy="223.6" r="0.7"/><circle cx="909" cy="223.8" r="0.7"/><circle cx="906" cy="226" r="0.7"/><circle cx="908.4" cy="226.4" r="0.7"/></g>
</g>
<path d="M877.2,134.6 A54.50,101.12 0 0 1 921.70,234.00 A54.50,103.76 0 0 1 877.20,336.00" fill="none" stroke="#5a4a92" stroke-width="1.1"/>
<path d="M877.2,146.6 L877.2,146.6 Q884.0,148.6 887.0,150.5 Q890.0,152.4 893.0,155.7 Q896.0,159.0 898.0,162.8 Q900.0,166.5 901.3,170.2 Q902.6,174.0 902.9,177.5 Q903.2,181.0 902.7,184.0 Q902.2,187.0 902.5,189.0 Q902.8,191.0 901.4,193.5 Q900.0,196.0 899.6,198.5 Q899.2,201.0 899.8,203.5 Q900.4,206.0 899.2,208.2 Q898.0,210.4 895.5,212.7 Q893.0,215.0 890.0,216.5 Q887.0,218.0 884.5,217.5 Q882.0,217.0 880.7,215.2 Q879.4,213.4 878.3,209.5 L877.2,205.6" fill="none" stroke="#aa6b60" stroke-width="7" stroke-linejoin="round"/>
<path d="M778.0,146.6 H877.2 L877.2,146.6 Q884.0,148.6 887.0,150.5 Q890.0,152.4 893.0,155.7 Q896.0,159.0 898.0,162.8 Q900.0,166.5 901.3,170.2 Q902.6,174.0 902.9,177.5 Q903.2,181.0 902.7,184.0 Q902.2,187.0 902.5,189.0 Q902.8,191.0 901.4,193.5 Q900.0,196.0 899.6,198.5 Q899.2,201.0 899.8,203.5 Q900.4,206.0 899.2,208.2 Q898.0,210.4 895.5,212.7 Q893.0,215.0 890.0,216.5 Q887.0,218.0 884.5,217.5 Q882.0,217.0 880.7,215.2 Q879.4,213.4 878.3,209.5 L877.2,205.6 L877.2,205.6 Q863.0,204.2 856.5,201.9 Q850.0,199.6 845.0,198.4 Q840.0,197.2 835.0,196.6 Q830.0,196.0 825.0,196.1 Q820.0,196.2 815.0,196.9 Q810.0,197.6 805.0,199.1 Q800.0,200.6 795.0,202.6 Q790.0,204.5 785.0,206.2 Q780.0,208.0 775.5,209.6 L771.0,211.2 L778.0,211.2 L785.0,208.1 L788.7,205.0 L789.4,202.0 L791.3,198.9 L793.3,195.8 L794.3,192.7 L794.7,189.7 L793.6,186.6 L794.2,183.5 L793.4,180.4 L792.7,177.4 L793.3,174.3 L793.8,171.2 L793.3,168.1 L792.2,165.1 L792.0,162.0 L789.1,158.9 L787.5,155.8 L786.6,152.8 L783.7,149.7 L778.0,146.6 Z" fill="url(#lg5)"/>
<path d="M778.0,146.6 H877.2 L877.2,146.6 Q884.0,148.6 887.0,150.5 Q890.0,152.4 893.0,155.7 Q896.0,159.0 898.0,162.8 Q900.0,166.5 901.3,170.2 Q902.6,174.0 902.9,177.5 Q903.2,181.0 902.7,184.0 Q902.2,187.0 902.5,189.0 Q902.8,191.0 901.4,193.5 Q900.0,196.0 899.6,198.5 Q899.2,201.0 899.8,203.5 Q900.4,206.0 899.2,208.2 Q898.0,210.4 895.5,212.7 Q893.0,215.0 890.0,216.5 Q887.0,218.0 884.5,217.5 Q882.0,217.0 880.7,215.2 Q879.4,213.4 878.3,209.5 L877.2,205.6 L877.2,205.6 Q863.0,204.2 856.5,201.9 Q850.0,199.6 845.0,198.4 Q840.0,197.2 835.0,196.6 Q830.0,196.0 825.0,196.1 Q820.0,196.2 815.0,196.9 Q810.0,197.6 805.0,199.1 Q800.0,200.6 795.0,202.6 Q790.0,204.5 785.0,206.2 Q780.0,208.0 775.5,209.6 L771.0,211.2 L778.0,211.2 L785.0,208.1 L788.7,205.0 L789.4,202.0 L791.3,198.9 L793.3,195.8 L794.3,192.7 L794.7,189.7 L793.6,186.6 L794.2,183.5 L793.4,180.4 L792.7,177.4 L793.3,174.3 L793.8,171.2 L793.3,168.1 L792.2,165.1 L792.0,162.0 L789.1,158.9 L787.5,155.8 L786.6,152.8 L783.7,149.7 L778.0,146.6 Z" fill="url(#net)"/>
<clipPath id="lc5"><path d="M778.0,146.6 H877.2 L877.2,146.6 Q884.0,148.6 887.0,150.5 Q890.0,152.4 893.0,155.7 Q896.0,159.0 898.0,162.8 Q900.0,166.5 901.3,170.2 Q902.6,174.0 902.9,177.5 Q903.2,181.0 902.7,184.0 Q902.2,187.0 902.5,189.0 Q902.8,191.0 901.4,193.5 Q900.0,196.0 899.6,198.5 Q899.2,201.0 899.8,203.5 Q900.4,206.0 899.2,208.2 Q898.0,210.4 895.5,212.7 Q893.0,215.0 890.0,216.5 Q887.0,218.0 884.5,217.5 Q882.0,217.0 880.7,215.2 Q879.4,213.4 878.3,209.5 L877.2,205.6 L877.2,205.6 Q863.0,204.2 856.5,201.9 Q850.0,199.6 845.0,198.4 Q840.0,197.2 835.0,196.6 Q830.0,196.0 825.0,196.1 Q820.0,196.2 815.0,196.9 Q810.0,197.6 805.0,199.1 Q800.0,200.6 795.0,202.6 Q790.0,204.5 785.0,206.2 Q780.0,208.0 775.5,209.6 L771.0,211.2 L778.0,211.2 L785.0,208.1 L788.7,205.0 L789.4,202.0 L791.3,198.9 L793.3,195.8 L794.3,192.7 L794.7,189.7 L793.6,186.6 L794.2,183.5 L793.4,180.4 L792.7,177.4 L793.3,174.3 L793.8,171.2 L793.3,168.1 L792.2,165.1 L792.0,162.0 L789.1,158.9 L787.5,155.8 L786.6,152.8 L783.7,149.7 L778.0,146.6 Z"/></clipPath>
<g clip-path="url(#lc5)"><path d="M771.0,211.2 Q780.0,208.0 785.0,206.2 Q790.0,204.5 795.0,202.6 Q800.0,200.6 805.0,199.1 Q810.0,197.6 815.0,196.9 Q820.0,196.2 825.0,196.1 Q830.0,196.0 835.0,196.6 Q840.0,197.2 845.0,198.4 Q850.0,199.6 856.5,201.9 Q863.0,204.2 870.1,204.9 Q877.2,205.6 879.6,209.3 Q882.0,213.0 885.0,214.8 Q888.0,216.5 891.5,214.8 L895.0,213.0" stroke="#e2231b" stroke-width="16" fill="none" opacity="0.85" filter="url(#blur5)"/><path d="M771.0,211.2 Q780.0,208.0 785.0,206.2 Q790.0,204.5 795.0,202.6 Q800.0,200.6 805.0,199.1 Q810.0,197.6 815.0,196.9 Q820.0,196.2 825.0,196.1 Q830.0,196.0 835.0,196.6 Q840.0,197.2 845.0,198.4 Q850.0,199.6 856.5,201.9 Q863.0,204.2 870.1,204.9 Q877.2,205.6 879.6,209.3 Q882.0,213.0 885.0,214.8 Q888.0,216.5 891.5,214.8 L895.0,213.0" stroke="#a30f0f" stroke-width="7" fill="none" opacity="0.6" filter="url(#blur3)"/></g>
<rect x="771.0" y="105.3" width="106.2" height="41.3" fill="#ed2d23"/>
<path d="M771.0,109.0 Q786.8,107.9 793.0,108.4 Q799.1,108.9 806.6,108.8 Q814.1,108.7 820.7,108.6 Q827.3,108.6 834.5,108.6 Q841.7,108.6 848.1,108.5 Q854.4,108.4 861.2,108.6 Q867.9,108.7 872.6,108.9 L877.2,109.0 M771.0,111.8 Q789.0,112.0 798.4,112.0 Q807.7,111.9 817.1,111.5 Q826.4,111.1 834.9,111.6 Q843.3,112.2 852.1,112.1 Q860.9,112.1 868.6,111.9 Q876.3,111.6 876.8,111.6 L877.2,111.7" stroke="#d82019" stroke-width="0.6" fill="none" opacity="0.8"/>
<rect x="771.0" y="114.9" width="106.2" height="19.9" fill="url(#cellF)"/>
<path d="M771.0,115.2 Q785.6,114.9 792.8,114.8 Q799.9,114.8 807.2,114.8 Q814.5,114.8 822.8,115.0 Q831.1,115.2 839.5,114.9 Q847.9,114.6 856.3,114.6 Q864.6,114.6 870.9,114.7 L877.2,114.8" stroke="#86567e" stroke-width="1.7" fill="none" opacity="0.9"/>
<rect x="771.0" y="134.6" width="106.2" height="12.0" fill="#f3a4a0"/>
<path d="M771.0,134.4 Q790.3,134.6 799.7,134.5 Q809.0,134.4 817.7,134.6 Q826.3,134.9 836.2,134.8 Q846.2,134.7 855.8,134.5 Q865.4,134.4 871.3,134.5 L877.2,134.7" stroke="#7d4a78" stroke-width="1.2" fill="none" opacity="0.9"/>
<path d="M771.0,142.3 Q778.7,142.9 782.3,142.9 Q785.9,142.9 789.8,142.9 Q793.6,142.8 798.0,142.6 Q802.3,142.3 806.3,142.6 Q810.2,142.8 813.0,142.7 Q815.7,142.5 819.7,142.4 Q823.7,142.3 826.7,142.7 Q829.7,143.1 833.4,143.0 Q837.1,142.9 841.1,142.9 Q845.1,142.9 849.5,143.0 Q853.8,143.1 857.0,143.0 Q860.1,142.9 864.1,142.7 Q868.1,142.5 872.2,142.5 Q876.4,142.5 876.8,142.7 L877.2,142.8 L877.2,146.6 L771.0,146.6 Z" fill="#c07866"/>
<rect x="771.0" y="145.7" width="106.2" height="0.9" fill="#9a5a4e" opacity="0.7"/>
<path d="M771.0,352.2 L877.2,352.6 V362.2 L771.0,362.2 Z" fill="#ed2d23"/>
<path d="M771.0,356.2 Q787.7,357.0 794.6,357.0 Q801.6,357.1 809.3,356.6 Q817.1,356.0 825.5,356.2 Q833.9,356.4 841.0,356.6 Q848.1,356.7 855.8,356.6 Q863.5,356.4 870.3,356.9 L877.2,357.5 M771.0,359.3 Q790.0,359.7 799.7,359.4 Q809.5,359.2 819.4,359.5 Q829.3,359.7 838.8,359.9 Q848.3,360.1 858.2,359.9 Q868.0,359.6 872.6,360.0 L877.2,360.3" stroke="#d82019" stroke-width="0.6" fill="none" opacity="0.8"/>
<path d="M771.0,331.2 Q779.0,331.0 782.6,331.2 Q786.3,331.3 789.3,331.7 Q792.4,332.1 795.6,332.2 Q798.8,332.4 803.3,332.2 Q807.8,332.0 812.0,332.3 Q816.3,332.6 820.9,333.6 Q825.5,334.6 828.9,334.9 Q832.3,335.1 836.8,334.3 Q841.2,333.5 845.0,334.4 Q848.8,335.4 853.7,334.9 Q858.5,334.4 862.0,335.3 Q865.5,336.3 870.4,335.6 Q875.4,334.9 876.3,335.8 L877.2,336.7 L877.2,353.6 L771.0,353.2 Z" fill="url(#cellF)"/>
<path d="M771.0,352.9 Q788.8,353.0 797.3,353.3 Q805.8,353.6 814.3,353.4 Q822.7,353.2 830.5,353.4 Q838.2,353.6 847.1,353.6 Q856.0,353.7 864.1,353.6 Q872.2,353.5 874.7,353.6 L877.2,353.8" stroke="#7d4f7c" stroke-width="1.7" fill="none"/>
<path d="M771.0,211.2 Q780.0,208.0 785.0,206.2 Q790.0,204.5 795.0,202.6 Q800.0,200.6 805.0,199.1 Q810.0,197.6 815.0,196.9 Q820.0,196.2 825.0,196.1 Q830.0,196.0 835.0,196.6 Q840.0,197.2 845.0,198.4 Q850.0,199.6 856.5,201.9 Q863.0,204.2 870.1,204.9 L877.2,205.6 L877.2,336.7 Q875.4,334.9 870.4,335.6 Q865.5,336.3 862.0,335.3 Q858.5,334.4 853.7,334.9 Q848.8,335.4 845.0,334.4 Q841.2,333.5 836.8,334.3 Q832.3,335.1 828.9,334.9 Q825.5,334.6 820.9,333.6 Q816.3,332.6 812.0,332.3 Q807.8,332.0 803.3,332.2 Q798.8,332.4 795.6,332.2 Q792.4,332.1 789.3,331.7 Q786.3,331.3 782.6,331.2 Q779.0,331.0 775.0,331.1 L771.0,331.2 Z" fill="#f3a4a0"/>
<path d="M771.0,331.2 Q779.0,331.0 782.6,331.2 Q786.3,331.3 789.3,331.7 Q792.4,332.1 795.6,332.2 Q798.8,332.4 803.3,332.2 Q807.8,332.0 812.0,332.3 Q816.3,332.6 820.9,333.6 Q825.5,334.6 828.9,334.9 Q832.3,335.1 836.8,334.3 Q841.2,333.5 845.0,334.4 Q848.8,335.4 853.7,334.9 Q858.5,334.4 862.0,335.3 Q865.5,336.3 870.4,335.6 Q875.4,334.9 876.3,335.8 L877.2,336.7" stroke="#6f4a86" stroke-width="1.2" fill="none"/>
<path d="M771.0,212.4 Q780.0,209.2 785.0,207.4 Q790.0,205.7 795.0,203.8 Q800.0,201.8 805.0,200.3 Q810.0,198.8 815.0,198.1 Q820.0,197.4 825.0,197.3 Q830.0,197.2 835.0,197.8 Q840.0,198.4 845.0,199.6 Q850.0,200.8 856.5,203.1 Q863.0,205.4 870.1,206.1 L877.2,206.8" stroke="#ee8c78" stroke-width="2.8" fill="none"/>
<path d="M771.0,211.5 Q780.0,208.3 785.0,206.6 Q790.0,204.8 795.0,202.9 Q800.0,200.9 805.0,199.4 Q810.0,197.9 815.0,197.2 Q820.0,196.5 825.0,196.4 Q830.0,196.3 835.0,196.9 Q840.0,197.5 845.0,198.7 Q850.0,199.9 856.5,202.2 Q863.0,204.5 870.1,205.2 L877.2,205.9" stroke="#c9796b" stroke-width="0.7" fill="none"/>
<ellipse cx="774.3" cy="300.7" rx="2.6" ry="2.0" fill="#c08e94" stroke="#a9767f" stroke-width="0.5" transform="rotate(-4 774.3 300.7)"/><path d="M772.8,300.0 L775.4,301.6 M773.8,299.3 L775.9,300.7 M772.6,301.2 L774.5,302.1" stroke="#a06a76" stroke-width="0.45" fill="none"/><ellipse cx="842.9" cy="301.7" rx="2.3" ry="1.8" fill="#c08e94" stroke="#a9767f" stroke-width="0.5" transform="rotate(-22 842.9 301.7)"/><path d="M841.6,301.1 L843.9,302.5 M842.5,300.4 L844.4,301.7 M841.4,302.1 L843.1,303.0" stroke="#a06a76" stroke-width="0.45" fill="none"/><ellipse cx="827.7" cy="313.5" rx="2.6" ry="2.0" fill="#c08e94" stroke="#a9767f" stroke-width="0.5" transform="rotate(-29 827.7 313.5)"/><path d="M826.3,312.8 L828.9,314.5 M827.3,312.1 L829.4,313.5 M826.1,314.0 L828.0,315.0" stroke="#a06a76" stroke-width="0.45" fill="none"/><ellipse cx="869.0" cy="311.8" rx="2.4" ry="1.9" fill="#c08e94" stroke="#a9767f" stroke-width="0.5" transform="rotate(18 869.0 311.8)"/><path d="M867.7,311.2 L870.1,312.7 M868.6,310.5 L870.6,311.8 M867.5,312.2 L869.3,313.1" stroke="#a06a76" stroke-width="0.45" fill="none"/><ellipse cx="806.8" cy="310.4" rx="3.1" ry="2.4" fill="#c08e94" stroke="#a9767f" stroke-width="0.5" transform="rotate(-4 806.8 310.4)"/><path d="M805.0,309.5 L808.2,311.5 M806.2,308.6 L808.8,310.4 M804.8,310.9 L807.0,312.1" stroke="#a06a76" stroke-width="0.45" fill="none"/><ellipse cx="794.5" cy="304.7" rx="2.8" ry="2.1" fill="#c08e94" stroke="#a9767f" stroke-width="0.5" transform="rotate(-1 794.5 304.7)"/><path d="M793.0,303.9 L795.8,305.7 M794.0,303.2 L796.3,304.7 M792.7,305.2 L794.7,306.2" stroke="#a06a76" stroke-width="0.45" fill="none"/><ellipse cx="785.1" cy="300.2" rx="3.2" ry="2.5" fill="#c08e94" stroke="#a9767f" stroke-width="0.5" transform="rotate(-1 785.1 300.2)"/><path d="M783.3,299.3 L786.5,301.3 M784.5,298.5 L787.1,300.2 M783.0,300.8 L785.4,301.9" stroke="#a06a76" stroke-width="0.45" fill="none"/><ellipse cx="851.4" cy="306.1" rx="3.0" ry="2.3" fill="#c08e94" stroke="#a9767f" stroke-width="0.5" transform="rotate(11 851.4 306.1)"/><path d="M849.8,305.3 L852.8,307.2 M850.9,304.5 L853.3,306.1 M849.6,306.7 L851.7,307.8" stroke="#a06a76" stroke-width="0.45" fill="none"/><ellipse cx="846.3" cy="314.3" rx="2.3" ry="1.8" fill="#c08e94" stroke="#a9767f" stroke-width="0.5" transform="rotate(24 846.3 314.3)"/><path d="M845.0,313.6 L847.3,315.1 M845.9,313.0 L847.8,314.3 M844.8,314.7 L846.5,315.5" stroke="#a06a76" stroke-width="0.45" fill="none"/><ellipse cx="816.4" cy="301.8" rx="2.6" ry="2.0" fill="#c08e94" stroke="#a9767f" stroke-width="0.5" transform="rotate(20 816.4 301.8)"/><path d="M815.0,301.1 L817.6,302.7 M816.0,300.4 L818.1,301.8 M814.8,302.2 L816.7,303.2" stroke="#a06a76" stroke-width="0.45" fill="none"/><ellipse cx="831.7" cy="303.6" rx="2.6" ry="2.0" fill="#c08e94" stroke="#a9767f" stroke-width="0.5" transform="rotate(14 831.7 303.6)"/><path d="M830.3,302.9 L832.8,304.5 M831.2,302.2 L833.3,303.6 M830.0,304.0 L831.9,305.0" stroke="#a06a76" stroke-width="0.45" fill="none"/><ellipse cx="777.6" cy="312.0" rx="2.7" ry="2.1" fill="#c08e94" stroke="#a9767f" stroke-width="0.5" transform="rotate(-10 777.6 312.0)"/><path d="M776.1,311.3 L778.8,313.0 M777.1,310.6 L779.3,312.0 M775.8,312.5 L777.8,313.5" stroke="#a06a76" stroke-width="0.45" fill="none"/>
<ellipse cx="780.9" cy="304.6" rx="1.4" ry="1.1" fill="#e3212a" transform="rotate(2 780.9 304.6)"/><ellipse cx="872.9" cy="300.7" rx="1.2" ry="1.0" fill="#e3212a" transform="rotate(36 872.9 300.7)"/><ellipse cx="809.1" cy="302.6" rx="1.4" ry="1.0" fill="#e3212a" transform="rotate(-49 809.1 302.6)"/><ellipse cx="825.0" cy="305.0" rx="1.5" ry="1.2" fill="#e3212a" transform="rotate(15 825.0 305.0)"/><ellipse cx="790.0" cy="310.4" rx="1.1" ry="1.0" fill="#e3212a" transform="rotate(16 790.0 310.4)"/><ellipse cx="857.7" cy="306.1" rx="1.7" ry="1.2" fill="#e3212a" transform="rotate(39 857.7 306.1)"/><ellipse cx="849.9" cy="299.3" rx="1.7" ry="1.5" fill="#e3212a" transform="rotate(-10 849.9 299.3)"/><ellipse cx="874.4" cy="315.6" rx="1.1" ry="0.9" fill="#e3212a" transform="rotate(10 874.4 315.6)"/><ellipse cx="836.4" cy="310.4" rx="1.0" ry="0.7" fill="#e3212a" transform="rotate(23 836.4 310.4)"/><ellipse cx="811.5" cy="314.5" rx="1.8" ry="1.3" fill="#e3212a" transform="rotate(-33 811.5 314.5)"/><ellipse cx="800.5" cy="302.3" rx="1.7" ry="1.4" fill="#e3212a" transform="rotate(-24 800.5 302.3)"/><ellipse cx="817.2" cy="308.9" rx="1.2" ry="0.9" fill="#e3212a" transform="rotate(20 817.2 308.9)"/><ellipse cx="859.4" cy="299.6" rx="1.1" ry="0.7" fill="#e3212a" transform="rotate(-25 859.4 299.6)"/><ellipse cx="827.2" cy="299.0" rx="1.7" ry="1.4" fill="#e3212a" transform="rotate(14 827.2 299.0)"/><ellipse cx="866.3" cy="301.9" rx="1.3" ry="1.2" fill="#e3212a" transform="rotate(24 866.3 301.9)"/><ellipse cx="855.3" cy="316.2" rx="1.2" ry="1.0" fill="#e3212a" transform="rotate(-19 855.3 316.2)"/><ellipse cx="863.5" cy="315.0" rx="2.2" ry="1.9" fill="#e3212a" transform="rotate(-28 863.5 315.0)"/><ellipse cx="798.6" cy="314.6" rx="1.0" ry="0.7" fill="#e3212a" transform="rotate(38 798.6 314.6)"/><ellipse cx="863.2" cy="309.0" rx="1.4" ry="1.2" fill="#e3212a" transform="rotate(10 863.2 309.0)"/><ellipse cx="783.8" cy="312.7" rx="1.4" ry="1.3" fill="#e3212a" transform="rotate(25 783.8 312.7)"/><ellipse cx="845.1" cy="308.3" rx="1.8" ry="1.5" fill="#e3212a" transform="rotate(-11 845.1 308.3)"/><ellipse cx="821.2" cy="313.5" rx="2.0" ry="1.9" fill="#e3212a" transform="rotate(15 821.2 313.5)"/>
<ellipse cx="831.3" cy="328.6" rx="2.6" ry="2.2" fill="#e3212a" transform="rotate(47 831.3 328.6)"/><ellipse cx="836.1" cy="326.6" rx="2.8" ry="2.1" fill="#e3212a" transform="rotate(36 836.1 326.6)"/><ellipse cx="827.0" cy="325.7" rx="2.8" ry="2.4" fill="#e3212a" transform="rotate(31 827.0 325.7)"/><ellipse cx="848.2" cy="325.5" rx="2.7" ry="2.1" fill="#e3212a" transform="rotate(25 848.2 325.5)"/><ellipse cx="867.8" cy="327.4" rx="2.4" ry="2.0" fill="#e3212a" transform="rotate(30 867.8 327.4)"/><ellipse cx="802.1" cy="322.2" rx="2.7" ry="2.3" fill="#e3212a" transform="rotate(-39 802.1 322.2)"/><ellipse cx="797.8" cy="323.1" rx="1.3" ry="1.2" fill="#e3212a" transform="rotate(24 797.8 323.1)"/><ellipse cx="792.0" cy="320.7" rx="1.4" ry="1.1" fill="#e3212a" transform="rotate(3 792.0 320.7)"/><ellipse cx="862.2" cy="330.3" rx="2.2" ry="1.9" fill="#e3212a" transform="rotate(-24 862.2 330.3)"/><ellipse cx="785.7" cy="321.3" rx="1.5" ry="1.3" fill="#e3212a" transform="rotate(-11 785.7 321.3)"/><ellipse cx="819.8" cy="326.2" rx="1.9" ry="1.2" fill="#e3212a" transform="rotate(3 819.8 326.2)"/><ellipse cx="780.2" cy="326.3" rx="1.9" ry="1.7" fill="#e3212a" transform="rotate(47 780.2 326.3)"/><ellipse cx="774.5" cy="327.2" rx="2.0" ry="1.6" fill="#e3212a" transform="rotate(-49 774.5 327.2)"/><ellipse cx="789.7" cy="326.5" rx="2.3" ry="1.9" fill="#e3212a" transform="rotate(-38 789.7 326.5)"/><ellipse cx="776.4" cy="320.3" rx="2.3" ry="1.6" fill="#e3212a" transform="rotate(27 776.4 320.3)"/><ellipse cx="800.6" cy="327.8" rx="2.2" ry="2.0" fill="#e3212a" transform="rotate(-26 800.6 327.8)"/><ellipse cx="853.9" cy="322.5" rx="1.5" ry="1.3" fill="#e3212a" transform="rotate(42 853.9 322.5)"/><ellipse cx="781.4" cy="322.1" rx="1.5" ry="1.0" fill="#e3212a" transform="rotate(49 781.4 322.1)"/><ellipse cx="854.8" cy="327.3" rx="2.0" ry="1.4" fill="#e3212a" transform="rotate(-26 854.8 327.3)"/><ellipse cx="838.3" cy="322.6" rx="1.3" ry="1.0" fill="#e3212a" transform="rotate(-2 838.3 322.6)"/><ellipse cx="863.3" cy="325.5" rx="2.6" ry="2.0" fill="#e3212a" transform="rotate(-26 863.3 325.5)"/><ellipse cx="870.2" cy="331.1" rx="2.0" ry="1.8" fill="#e3212a" transform="rotate(-0 870.2 331.1)"/><ellipse cx="808.8" cy="320.8" rx="1.3" ry="1.1" fill="#e3212a" transform="rotate(30 808.8 320.8)"/><ellipse cx="805.4" cy="327.3" rx="1.7" ry="1.6" fill="#e3212a" transform="rotate(-6 805.4 327.3)"/><ellipse cx="853.6" cy="332.6" rx="1.3" ry="1.0" fill="#e3212a" transform="rotate(-45 853.6 332.6)"/><ellipse cx="843.8" cy="326.5" rx="1.8" ry="1.5" fill="#e3212a" transform="rotate(-38 843.8 326.5)"/><ellipse cx="873.0" cy="325.0" rx="2.6" ry="2.2" fill="#e3212a" transform="rotate(-19 873.0 325.0)"/><ellipse cx="814.2" cy="321.8" rx="2.0" ry="1.5" fill="#e3212a" transform="rotate(-14 814.2 321.8)"/><ellipse cx="815.4" cy="330.1" rx="1.9" ry="1.8" fill="#e3212a" transform="rotate(3 815.4 330.1)"/><ellipse cx="850.3" cy="330.1" rx="1.4" ry="1.1" fill="#e3212a" transform="rotate(1 850.3 330.1)"/><ellipse cx="833.8" cy="322.4" rx="1.7" ry="1.5" fill="#e3212a" transform="rotate(-39 833.8 322.4)"/><ellipse cx="810.8" cy="328.5" rx="2.6" ry="2.4" fill="#e3212a" transform="rotate(-9 810.8 328.5)"/><ellipse cx="845.9" cy="332.2" rx="1.3" ry="1.1" fill="#e3212a" transform="rotate(11 845.9 332.2)"/><ellipse cx="823.7" cy="323.0" rx="2.8" ry="2.7" fill="#e3212a" transform="rotate(-40 823.7 323.0)"/><ellipse cx="795.4" cy="327.3" rx="1.3" ry="1.1" fill="#e3212a" transform="rotate(4 795.4 327.3)"/><ellipse cx="857.6" cy="331.1" rx="2.2" ry="1.6" fill="#e3212a" transform="rotate(35 857.6 331.1)"/><ellipse cx="834.7" cy="331.1" rx="1.7" ry="1.2" fill="#e3212a" transform="rotate(29 834.7 331.1)"/><ellipse cx="858.3" cy="324.4" rx="1.5" ry="1.3" fill="#e3212a" transform="rotate(36 858.3 324.4)"/><ellipse cx="841.0" cy="329.8" rx="1.8" ry="1.5" fill="#e3212a" transform="rotate(-41 841.0 329.8)"/><ellipse cx="826.7" cy="329.9" rx="1.5" ry="1.1" fill="#e3212a" transform="rotate(6 826.7 329.9)"/><ellipse cx="829.7" cy="322.5" rx="2.3" ry="1.6" fill="#e3212a" transform="rotate(-35 829.7 322.5)"/><ellipse cx="785.2" cy="325.8" rx="2.2" ry="2.0" fill="#e3212a" transform="rotate(21 785.2 325.8)"/><ellipse cx="822.0" cy="329.9" rx="2.5" ry="2.3" fill="#e3212a" transform="rotate(2 822.0 329.9)"/><ellipse cx="866.3" cy="332.9" rx="1.8" ry="1.5" fill="#e3212a" transform="rotate(-29 866.3 332.9)"/><ellipse cx="814.4" cy="326.1" rx="2.1" ry="1.7" fill="#e3212a" transform="rotate(-19 814.4 326.1)"/><ellipse cx="845.3" cy="322.4" rx="1.7" ry="1.1" fill="#e3212a" transform="rotate(48 845.3 322.4)"/><ellipse cx="874.0" cy="329.1" rx="2.3" ry="1.7" fill="#e3212a" transform="rotate(-7 874.0 329.1)"/><ellipse cx="819.4" cy="322.0" rx="2.4" ry="2.1" fill="#e3212a" transform="rotate(-21 819.4 322.0)"/>
<path d="M771.0,218.6 Q780.0,216.6 785.0,215.3 Q790.0,214.0 795.4,212.3 Q800.7,210.6 806.0,210.2 Q811.4,209.9 816.7,207.9 Q822.0,205.8 827.4,203.6 Q832.7,201.4 838.0,203.5 Q843.4,205.6 848.7,207.8 Q854.0,209.9 859.4,212.0 Q864.8,214.1 871.0,217.4 L877.2,220.8 L877.2,298.7 Q855.0,297.0 842.5,296.3 Q830.0,295.6 815.0,296.1 Q800.0,296.6 785.5,295.5 L771.0,294.4 Z" fill="url(#lip6)" stroke="#e98d1c" stroke-width="0.5"/>
<path d="M776,265 Q790,270 800,262 T836,247 T874,240 M806,272 Q826,265 846,268 T872,270" stroke="#e98d1c" stroke-width="0.5" fill="none"/>
<path d="M808.2,207.7 L812.4,201.3 L815.6,193.8 L817.8,186.4 L822.0,180.8 L829.5,180.0 L836.0,183.2 L842.4,188.5 L849.8,192.8 L855.2,197.0 L859.4,201.9 L862.6,204.5 L859.4,206.3 L854.0,204.7 L847.7,206.3 L841.3,203.7 L836.0,201.0 L830.6,201.0 L825.3,203.7 L821.0,207.4 L816.7,209.5 L811.4,209.5 Z" fill="#5b3a9c" stroke="#4f3090" stroke-width="0.8" stroke-linejoin="round"/>
<circle cx="821.2" cy="204.7" r="1.35" fill="#7a57b8" stroke="#4f3090" stroke-width="0.35"/><circle cx="838.7" cy="198.3" r="1.35" fill="#7a57b8" stroke="#4f3090" stroke-width="0.35"/><circle cx="816.0" cy="198.9" r="1.35" fill="#7a57b8" stroke="#4f3090" stroke-width="0.35"/><circle cx="817.5" cy="204.4" r="1.35" fill="#7a57b8" stroke="#4f3090" stroke-width="0.35"/><circle cx="818.1" cy="189.6" r="1.35" fill="#7a57b8" stroke="#4f3090" stroke-width="0.35"/><circle cx="812.8" cy="203.4" r="1.35" fill="#7a57b8" stroke="#4f3090" stroke-width="0.35"/><circle cx="837.4" cy="186.1" r="1.35" fill="#7a57b8" stroke="#4f3090" stroke-width="0.35"/><circle cx="819.0" cy="196.8" r="1.35" fill="#7a57b8" stroke="#4f3090" stroke-width="0.35"/><circle cx="848.9" cy="205.5" r="1.35" fill="#7a57b8" stroke="#4f3090" stroke-width="0.35"/><circle cx="857.8" cy="200.6" r="1.35" fill="#7a57b8" stroke="#4f3090" stroke-width="0.35"/><circle cx="824.4" cy="182.8" r="1.35" fill="#7a57b8" stroke="#4f3090" stroke-width="0.35"/><circle cx="829.5" cy="194.3" r="1.35" fill="#7a57b8" stroke="#4f3090" stroke-width="0.35"/><circle cx="820.8" cy="195.0" r="1.35" fill="#7a57b8" stroke="#4f3090" stroke-width="0.35"/><circle cx="847.2" cy="198.0" r="1.35" fill="#7a57b8" stroke="#4f3090" stroke-width="0.35"/><circle cx="834.9" cy="188.0" r="1.35" fill="#7a57b8" stroke="#4f3090" stroke-width="0.35"/><circle cx="842.2" cy="188.9" r="1.35" fill="#7a57b8" stroke="#4f3090" stroke-width="0.35"/><circle cx="823.2" cy="193.6" r="1.35" fill="#7a57b8" stroke="#4f3090" stroke-width="0.35"/><circle cx="845.3" cy="203.4" r="1.35" fill="#7a57b8" stroke="#4f3090" stroke-width="0.35"/><circle cx="817.1" cy="208.5" r="1.35" fill="#7a57b8" stroke="#4f3090" stroke-width="0.35"/><circle cx="834.9" cy="200.9" r="1.35" fill="#7a57b8" stroke="#4f3090" stroke-width="0.35"/><circle cx="851.0" cy="195.7" r="1.35" fill="#7a57b8" stroke="#4f3090" stroke-width="0.35"/><circle cx="835.7" cy="192.0" r="1.35" fill="#7a57b8" stroke="#4f3090" stroke-width="0.35"/><circle cx="822.9" cy="184.8" r="1.35" fill="#7a57b8" stroke="#4f3090" stroke-width="0.35"/><circle cx="833.0" cy="198.6" r="1.35" fill="#7a57b8" stroke="#4f3090" stroke-width="0.35"/><circle cx="851.2" cy="204.2" r="1.35" fill="#7a57b8" stroke="#4f3090" stroke-width="0.35"/><circle cx="834.5" cy="196.2" r="1.35" fill="#7a57b8" stroke="#4f3090" stroke-width="0.35"/><circle cx="833.8" cy="185.7" r="1.35" fill="#7a57b8" stroke="#4f3090" stroke-width="0.35"/><circle cx="829.3" cy="199.8" r="1.35" fill="#7a57b8" stroke="#4f3090" stroke-width="0.35"/><circle cx="824.9" cy="200.1" r="1.35" fill="#7a57b8" stroke="#4f3090" stroke-width="0.35"/><circle cx="827.5" cy="186.8" r="1.35" fill="#7a57b8" stroke="#4f3090" stroke-width="0.35"/><circle cx="832.6" cy="189.1" r="1.35" fill="#7a57b8" stroke="#4f3090" stroke-width="0.35"/><circle cx="841.9" cy="200.7" r="1.35" fill="#7a57b8" stroke="#4f3090" stroke-width="0.35"/><circle cx="856.2" cy="204.1" r="1.35" fill="#7a57b8" stroke="#4f3090" stroke-width="0.35"/><circle cx="837.8" cy="194.2" r="1.35" fill="#7a57b8" stroke="#4f3090" stroke-width="0.35"/><circle cx="844.1" cy="197.9" r="1.35" fill="#7a57b8" stroke="#4f3090" stroke-width="0.35"/><circle cx="816.0" cy="193.4" r="1.35" fill="#7a57b8" stroke="#4f3090" stroke-width="0.35"/><circle cx="827.6" cy="182.8" r="1.35" fill="#7a57b8" stroke="#4f3090" stroke-width="0.35"/><circle cx="840.4" cy="195.3" r="1.35" fill="#7a57b8" stroke="#4f3090" stroke-width="0.35"/><circle cx="841.6" cy="192.7" r="1.35" fill="#7a57b8" stroke="#4f3090" stroke-width="0.35"/><circle cx="847.9" cy="194.6" r="1.35" fill="#7a57b8" stroke="#4f3090" stroke-width="0.35"/><circle cx="823.3" cy="196.1" r="1.35" fill="#7a57b8" stroke="#4f3090" stroke-width="0.35"/><circle cx="823.6" cy="203.8" r="1.35" fill="#7a57b8" stroke="#4f3090" stroke-width="0.35"/><circle cx="826.1" cy="194.3" r="1.35" fill="#7a57b8" stroke="#4f3090" stroke-width="0.35"/><circle cx="830.5" cy="185.6" r="1.35" fill="#7a57b8" stroke="#4f3090" stroke-width="0.35"/><circle cx="833.7" cy="182.7" r="1.35" fill="#7a57b8" stroke="#4f3090" stroke-width="0.35"/><circle cx="813.8" cy="200.0" r="1.35" fill="#7a57b8" stroke="#4f3090" stroke-width="0.35"/><circle cx="852.6" cy="201.3" r="1.35" fill="#7a57b8" stroke="#4f3090" stroke-width="0.35"/><circle cx="822.7" cy="188.9" r="1.35" fill="#7a57b8" stroke="#4f3090" stroke-width="0.35"/><circle cx="830.2" cy="190.8" r="1.35" fill="#7a57b8" stroke="#4f3090" stroke-width="0.35"/><circle cx="819.2" cy="206.5" r="1.35" fill="#7a57b8" stroke="#4f3090" stroke-width="0.35"/><circle cx="826.9" cy="191.6" r="1.35" fill="#7a57b8" stroke="#4f3090" stroke-width="0.35"/><circle cx="821.0" cy="199.2" r="1.35" fill="#7a57b8" stroke="#4f3090" stroke-width="0.35"/><circle cx="820.1" cy="191.7" r="1.35" fill="#7a57b8" stroke="#4f3090" stroke-width="0.35"/><circle cx="809.3" cy="207.6" r="1.35" fill="#7a57b8" stroke="#4f3090" stroke-width="0.35"/><circle cx="815.2" cy="196.5" r="1.35" fill="#7a57b8" stroke="#4f3090" stroke-width="0.35"/><circle cx="844.1" cy="195.2" r="1.35" fill="#7a57b8" stroke="#4f3090" stroke-width="0.35"/><circle cx="833.0" cy="193.2" r="1.35" fill="#7a57b8" stroke="#4f3090" stroke-width="0.35"/><circle cx="853.9" cy="197.0" r="1.35" fill="#7a57b8" stroke="#4f3090" stroke-width="0.35"/><circle cx="839.6" cy="189.5" r="1.35" fill="#7a57b8" stroke="#4f3090" stroke-width="0.35"/><circle cx="826.5" cy="197.4" r="1.35" fill="#7a57b8" stroke="#4f3090" stroke-width="0.35"/><circle cx="831.5" cy="181.1" r="1.35" fill="#7a57b8" stroke="#4f3090" stroke-width="0.35"/><circle cx="840.2" cy="186.8" r="1.35" fill="#7a57b8" stroke="#4f3090" stroke-width="0.35"/><circle cx="839.6" cy="202.2" r="1.35" fill="#7a57b8" stroke="#4f3090" stroke-width="0.35"/><circle cx="860.7" cy="203.6" r="1.35" fill="#7a57b8" stroke="#4f3090" stroke-width="0.35"/><circle cx="810.9" cy="204.9" r="1.35" fill="#7a57b8" stroke="#4f3090" stroke-width="0.35"/><circle cx="817.3" cy="201.6" r="1.35" fill="#7a57b8" stroke="#4f3090" stroke-width="0.35"/><circle cx="819.3" cy="184.8" r="1.35" fill="#7a57b8" stroke="#4f3090" stroke-width="0.35"/><circle cx="828.0" cy="180.2" r="1.35" fill="#7a57b8" stroke="#4f3090" stroke-width="0.35"/><circle cx="846.8" cy="200.9" r="1.35" fill="#7a57b8" stroke="#4f3090" stroke-width="0.35"/><circle cx="821.8" cy="181.7" r="1.35" fill="#7a57b8" stroke="#4f3090" stroke-width="0.35"/>
</g>
</g>
<text x="173" y="368" font-size="10.4" font-weight="700" fill="#1d1d1b" textLength="33.25" lengthAdjust="spacingAndGlyphs">Artéria</text>
<text x="173" y="379.5" font-size="10.4" font-weight="700" fill="#1d1d1b" textLength="32.75" lengthAdjust="spacingAndGlyphs">normal</text>
<text x="297" y="368.75" font-size="10.4" font-weight="700" fill="#1d1d1b" textLength="26" lengthAdjust="spacingAndGlyphs">Estria</text>
<text x="286.75" y="380.75" font-size="10.4" font-weight="700" fill="#1d1d1b" textLength="47" lengthAdjust="spacingAndGlyphs">gordurosa</text>
<text x="433.75" y="368" font-size="10.4" font-weight="700" fill="#1d1d1b" textLength="26.75" lengthAdjust="spacingAndGlyphs">Lesão</text>
<text x="415.75" y="379.5" font-size="10.4" font-weight="700" fill="#1d1d1b" textLength="62.25" lengthAdjust="spacingAndGlyphs">intermediária</text>
<text x="548" y="379.5" font-size="10.4" font-weight="700" fill="#1d1d1b" textLength="40.25" lengthAdjust="spacingAndGlyphs">Ateroma</text>
<text x="661.75" y="379.5" font-size="10.4" font-weight="700" fill="#1d1d1b" textLength="62.5" lengthAdjust="spacingAndGlyphs">Fibroateroma</text>
<text x="785" y="379.5" font-size="10.4" font-weight="700" fill="#1d1d1b" textLength="62" lengthAdjust="spacingAndGlyphs">Instabilização</text>
<path d="M128.8,388.8 H863 L869.5,400 L863,411.2 H128.8 Z" fill="url(#gRisk)"/>
<text x="412" y="405" font-size="11.2" font-weight="700" fill="#2b2a12" textLength="191.25" lengthAdjust="spacingAndGlyphs">CONTÍNUO DO RISCO CARDIOVASCULAR</text>
<text x="131.75" y="424.5" font-size="9.4" font-weight="700" fill="#1d1d1b" textLength="28.75" lengthAdjust="spacingAndGlyphs">BAIXO</text>
<text x="813" y="424.5" font-size="9.4" font-weight="700" fill="#1d1d1b" textLength="45.25" lengthAdjust="spacingAndGlyphs">EXTREMO</text>
<rect x="92" y="437.5" width="890" height="207" rx="13" ry="13" fill="#7ecfdd"/>
<path d="M111,452 H944 Q948.5,452 950.8,455.8 L968.3,488.5 Q970.3,492.8 968.3,497 L950.8,530 Q948.5,533.8 944,533.8 H111 Q103,533.8 103,525.8 V460 Q103,452 111,452 Z" fill="url(#gBand)"/>
<text x="112" y="465" font-size="9.3" font-weight="700" fill="#fff" textLength="103" lengthAdjust="spacingAndGlyphs" stroke="#fff" stroke-width="0.25">CURSO AO LONGO DA VIDA</text>
<text x="112" y="482" font-size="10.9" font-weight="400" fill="#fff" textLength="48.5" lengthAdjust="spacingAndGlyphs">Prevenção</text>
<text x="112" y="495.3" font-size="10.9" font-weight="400" fill="#fff" textLength="48" lengthAdjust="spacingAndGlyphs">primordial</text>
<text x="258" y="482" font-size="10.9" font-weight="400" fill="#fff" textLength="58.25" lengthAdjust="spacingAndGlyphs">Avaliação do</text>
<text x="258" y="495.3" font-size="10.9" font-weight="400" fill="#fff" textLength="67.5" lengthAdjust="spacingAndGlyphs">risco no jovem</text>
<text x="258" y="508.6" font-size="10.9" font-weight="400" fill="#fff" textLength="67.5" lengthAdjust="spacingAndGlyphs">e adulto jovem</text>
<text x="705.5" y="482" font-size="10.9" font-weight="400" fill="#fff" textLength="35.75" lengthAdjust="spacingAndGlyphs">Atenção</text>
<text x="705.5" y="495.3" font-size="10.9" font-weight="400" fill="#fff" textLength="50.75" lengthAdjust="spacingAndGlyphs">aos fatores</text>
<text x="705.5" y="508.6" font-size="10.9" font-weight="400" fill="#fff" textLength="48.75" lengthAdjust="spacingAndGlyphs">específicos</text>
<text x="705.5" y="521.9" font-size="10.9" font-weight="400" fill="#fff" textLength="62" lengthAdjust="spacingAndGlyphs">das mulheres</text>
<text x="845.5" y="482" font-size="10.9" font-weight="400" fill="#fff" textLength="47.5" lengthAdjust="spacingAndGlyphs">Prevenção</text>
<text x="845.5" y="495.3" font-size="10.9" font-weight="400" fill="#fff" textLength="58.75" lengthAdjust="spacingAndGlyphs">e tratamento</text>
<text x="845.5" y="508.6" font-size="10.9" font-weight="400" fill="#fff" textLength="37.5" lengthAdjust="spacingAndGlyphs">no idoso</text>
<rect x="372.9" y="455" width="0.9" height="76" fill="#f4d90f"/>
<rect x="380.6" y="455" width="0.9" height="76" fill="#f4d90f"/>
<text transform="translate(371.9,530.5) rotate(-90)" font-size="9.8" font-weight="700" fill="#f4d90f" textLength="75" lengthAdjust="spacingAndGlyphs">&lt;30 anos de idade</text>
<text transform="translate(382.2,455.5) rotate(90)" font-size="9.8" font-weight="700" fill="#f4d90f" textLength="75" lengthAdjust="spacingAndGlyphs">&gt; 30 anos de idade</text>
<line x1="377.5" y1="455" x2="377.5" y2="558" stroke="#fff" stroke-width="0.9" stroke-dasharray="3.2 1.8"/>
<text x="112" y="549.3" font-size="9.4" font-weight="700" fill="#1d1d1b" textLength="165" lengthAdjust="spacingAndGlyphs">TRATAMENTO E METAS INDIVIDUALIZADAS</text>
<text x="112.5" y="573" font-size="10.2" font-weight="400" fill="#1d1d1b" textLength="122.5" lengthAdjust="spacingAndGlyphs">Na infância e adolescência:</text>
<text x="112.5" y="586.2" font-size="10.2" font-weight="400" fill="#1d1d1b" textLength="150.5" lengthAdjust="spacingAndGlyphs">Priorizar estilo de vida saudável;</text>
<text x="112.5" y="599.4" font-size="10.2" font-weight="400" fill="#1d1d1b" textLength="143.5" lengthAdjust="spacingAndGlyphs">Avaliar dislipidemias genéticas;</text>
<text x="112.5" y="612.6" font-size="10.2" font-weight="400" fill="#1d1d1b" textLength="150" lengthAdjust="spacingAndGlyphs">Identificar aquelas em moderado</text>
<text x="112.5" y="625.8" font-size="10.2" font-weight="400" fill="#1d1d1b" textLength="52.5" lengthAdjust="spacingAndGlyphs">e alto risco;</text>
<text x="112.5" y="639" font-size="10.2" font-weight="400" fill="#1d1d1b" textLength="158.75" lengthAdjust="spacingAndGlyphs">Tratá-las de forma individualizada.</text>
<text x="288.75" y="573" font-size="10.2" font-weight="400" fill="#1d1d1b" textLength="43.25" lengthAdjust="spacingAndGlyphs">No adulto</text>
<text x="288.75" y="586.2" font-size="10.2" font-weight="400" fill="#1d1d1b" textLength="30" lengthAdjust="spacingAndGlyphs">jovem:</text>
<text x="289.4" y="599.4" font-size="10.2" font-weight="400" fill="#1d1d1b" textLength="43.75" lengthAdjust="spacingAndGlyphs">Identificar</text>
<text x="288.75" y="612.6" font-size="10.2" font-weight="400" fill="#1d1d1b" textLength="39.25" lengthAdjust="spacingAndGlyphs">fatores e</text>
<text x="288.75" y="625.8" font-size="10.2" font-weight="400" fill="#1d1d1b" textLength="50.5" lengthAdjust="spacingAndGlyphs">agravantes</text>
<text x="288.75" y="639" font-size="10.2" font-weight="400" fill="#1d1d1b" textLength="37.5" lengthAdjust="spacingAndGlyphs">de risco.</text>
<text x="385.5" y="572.7" font-size="10.2" font-weight="400" fill="#1d1d1b" textLength="96.5" lengthAdjust="spacingAndGlyphs">No adulto (&gt;30 anos):</text>
<text x="385.5" y="585.9000000000001" font-size="10.2" font-weight="400" fill="#1d1d1b" textLength="135" lengthAdjust="spacingAndGlyphs">Calcular risco pela PREVENT;</text>
<text x="385.5" y="599.1" font-size="10.2" font-weight="400" fill="#1d1d1b" textLength="141.5" lengthAdjust="spacingAndGlyphs">Identificar agravantes de risco;</text>
<text x="385.5" y="612.3000000000001" font-size="10.2" font-weight="400" fill="#1d1d1b" textLength="132.5" lengthAdjust="spacingAndGlyphs">Identificar fatores específicos</text>
<text x="385.5" y="625.5" font-size="10.2" font-weight="400" fill="#1d1d1b" textLength="64" lengthAdjust="spacingAndGlyphs">das mulheres;</text>
<text x="385.5" y="638.7" font-size="10.2" font-weight="400" fill="#1d1d1b" textLength="113.75" lengthAdjust="spacingAndGlyphs">Uso de CAC pode ser útil</text>
<text x="502" y="638.7" font-size="8.3" font-weight="400" fill="#1d1d1b" textLength="43.5" lengthAdjust="spacingAndGlyphs">(&gt;40 anos)</text>
<text x="555.5" y="571.9" font-size="10.2" font-weight="400" fill="#1d1d1b" textLength="42" lengthAdjust="spacingAndGlyphs">No idoso:</text>
<text x="555.5" y="585.1" font-size="10.2" font-weight="400" fill="#1d1d1b" textLength="199" lengthAdjust="spacingAndGlyphs">O uso de escala de fragilidade, avaliação de</text>
<text x="555.5" y="598.3" font-size="10.2" font-weight="400" fill="#1d1d1b" textLength="200.75" lengthAdjust="spacingAndGlyphs">comorbidades e interação medicamentosa é</text>
<text x="555.5" y="611.5" font-size="10.2" font-weight="400" fill="#1d1d1b" textLength="60.25" lengthAdjust="spacingAndGlyphs">fundamental;</text>
<text x="555.5" y="624.6999999999999" font-size="10.2" font-weight="400" fill="#1d1d1b" textLength="167" lengthAdjust="spacingAndGlyphs">O uso de escores de risco é limitado;</text>
<text x="555.5" y="637.9" font-size="10.2" font-weight="400" fill="#1d1d1b" textLength="227" lengthAdjust="spacingAndGlyphs">O uso de CAC pode ser feito em casos específicos.</text>
<text x="808.25" y="572.6" font-size="10.2" font-weight="400" fill="#1d1d1b" textLength="144.75" lengthAdjust="spacingAndGlyphs">No indivíduo com evento clínico</text>
<text x="808.25" y="585.8000000000001" font-size="10.2" font-weight="400" fill="#1d1d1b" textLength="157.25" lengthAdjust="spacingAndGlyphs">manifesto prévio, a recorrência de</text>
<text x="808.25" y="599.0" font-size="10.2" font-weight="400" fill="#1d1d1b" textLength="158.75" lengthAdjust="spacingAndGlyphs">evento pode indicar risco extremo.</text>
<text x="808.25" y="612.2" font-size="10.2" font-weight="400" fill="#1d1d1b" textLength="128" lengthAdjust="spacingAndGlyphs">Atenção para a necessidade</text>
<text x="808.25" y="625.4" font-size="10.2" font-weight="400" fill="#1d1d1b" textLength="143.25" lengthAdjust="spacingAndGlyphs">de terapia combinada intensiva</text>
<text x="808.25" y="638.6" font-size="10.2" font-weight="400" fill="#1d1d1b" textLength="65" lengthAdjust="spacingAndGlyphs">desde o início.</text>
<rect x="279.5" y="564.5" width="1" height="74.5" fill="#1d1d1b"/>
<rect x="377.0" y="564.5" width="1" height="74.5" fill="#1d1d1b"/>
<rect x="547.7" y="564.5" width="1" height="74.5" fill="#1d1d1b"/>
<rect x="797.3" y="564.5" width="1" height="74.5" fill="#1d1d1b"/>
<g id="icons" fill="#fff" stroke="none">
<ellipse cx="195.2" cy="485" rx="5.3" ry="6.2"/>
<path d="M194.2,490.6 L196.2,490.6 L195.2,492 Z"/>
<path d="M195.2,491 L195.6,503.2" stroke="#e8f4fb" stroke-width="0.8" fill="none"/>
<circle cx="212.6" cy="493.4" r="6.1"/>
<path d="M208.3,501.6 H217.2 Q218.8,501.6 220,502.8 L227.3,508.8 Q228.4,510 227.5,511.2 Q226.5,512.3 225,511.5 L219.3,507.6 L222.4,522.8 H218 V532.6 Q218,533.9 215.7,533.9 Q213.4,533.9 213.4,532.6 V522.8 H212 V532.6 Q212,533.9 209.6,533.9 Q207.2,533.9 207.2,532.6 V522.8 H203.1 L207.3,507 L196.3,500.5 Q195.2,499.3 196,498 Q197,497 198.3,497.6 Z"/>
<circle cx="179.4" cy="511" r="6.2"/>
<path d="M172.5,516.2 L176.6,523.5 L184.3,531.3 Q185.2,532.6 184.2,533.6 Q183,534.4 181.7,533.4 L174.2,526 L163.5,531 L163,532 Q163,534 161,534 H152 Q150.4,533.9 150.4,532.6 Q150.6,531.4 152.3,531.2 L154.5,530.8 Q151.8,528.5 152,525.2 Q152.4,520.8 157.5,519.8 Z"/>
<path d="M155.6,521.8 Q157.5,520.6 158.2,522.5 L159,526.5 L156.8,525.6 L156.4,528.2 Q154.4,525 155.6,521.8 Z" fill="#1f9bb0"/>
<circle cx="486.8" cy="480.7" r="6.2"/>
<path d="M482.6,488.4 H491 Q492.8,488.4 493.6,490.2 L500.8,505.6 Q501.4,507.4 499.9,508.2 Q498.3,508.8 497.3,507.3 L492.8,498.6 L498,518.7 H493.9 V531.6 Q493.9,533.6 490.9,533.6 Q487.9,533.6 487.9,531.6 V518.7 H486 V531.6 Q486,533.6 483.1,533.6 Q480.2,533.6 480.2,531.6 V518.7 H475.8 L481,498.6 L476.5,507.3 Q475.5,508.8 473.9,508.2 Q472.4,507.4 473,505.6 L480.2,490.2 Q481,488.4 482.6,488.4 Z"/>
<circle cx="555.4" cy="482.1" r="6.2"/>
<path d="M552.6,489.6 Q556.5,488.8 559.5,491.6 Q564,496.5 569.4,503.6 Q572.6,508.6 570.3,513 Q568.6,515.8 565.8,516.4 V519.8 H559.2 V531.8 Q559.2,533.8 555.6,533.8 Q552,533.8 552,531.8 V519.8 H549.3 V505.4 L542.3,500.6 Q541,499.2 542.2,497.6 Z M549.6,495.8 L545.6,498.8 L549.6,502.2 Z" fill-rule="evenodd"/>
<circle cx="611.9" cy="480.5" r="6.2"/>
<path d="M607.5,488.4 H616.4 Q618.2,488.4 619.2,490.2 L626.4,505.2 Q627,506.9 625.5,507.8 Q624,508.3 623,507 L618.5,499 V531.4 Q618.5,533.8 615.6,533.8 Q612.7,533.8 612.7,531.4 V513.2 H611.3 V531.4 Q611.3,533.8 608.4,533.8 Q605.5,533.8 605.5,531.4 V499 L601,507 Q600,508.3 598.5,507.8 Q597,506.9 597.6,505.2 L604.8,490.2 Q605.8,488.4 607.5,488.4 Z"/>
<path d="M624.5,507.8 Q630.5,506.6 633.2,510.2 L636.2,514.6" stroke="#fff" stroke-width="1" fill="none"/>
<path d="M629,515.1 H655.6 V523 Q655.6,525 653.6,525 H631 Q629,525 629,523 Z"/>
<path d="M643,514.3 V506.4 Q643,504.5 645,504.5 H653.6 Q655.6,504.5 655.6,506.4 V514.3 Z"/>
<circle cx="635" cy="530.1" r="2.7" fill="none" stroke="#fff" stroke-width="0.9"/>
<circle cx="650.5" cy="530.1" r="2.7" fill="none" stroke="#fff" stroke-width="0.9"/>
<circle cx="830.7" cy="482.7" r="6.6"/>
<path d="M821,489.6 Q826,488.6 829.6,491.2 Q832.6,493 832.8,497 L833.4,502.8 Q836.6,502.4 837.6,504.6 Q838.8,507.6 836.4,509.2 L840.3,514 Q841,515 841,516.4 V532.5 Q841,533.8 839.6,533.8 Q838.3,533.8 838.3,532.5 V516.6 L834.8,511.4 Q833.8,510.8 832.6,510.9 L828.8,510.6 Q827.2,510.2 826.8,508.4 L826.6,500.5 L824.6,511.6 L830.6,530.2 Q831.2,532.6 828.9,533.5 Q826.6,534.1 825.6,532 L818.9,514.6 L818.7,531.2 Q818.6,533.8 815.6,533.8 Q812.5,533.8 812.5,531.2 V512.5 Q812.2,503 814.4,497 Q816.4,491 821,489.6 Z"/>
</g>
</svg>
</body></html>
